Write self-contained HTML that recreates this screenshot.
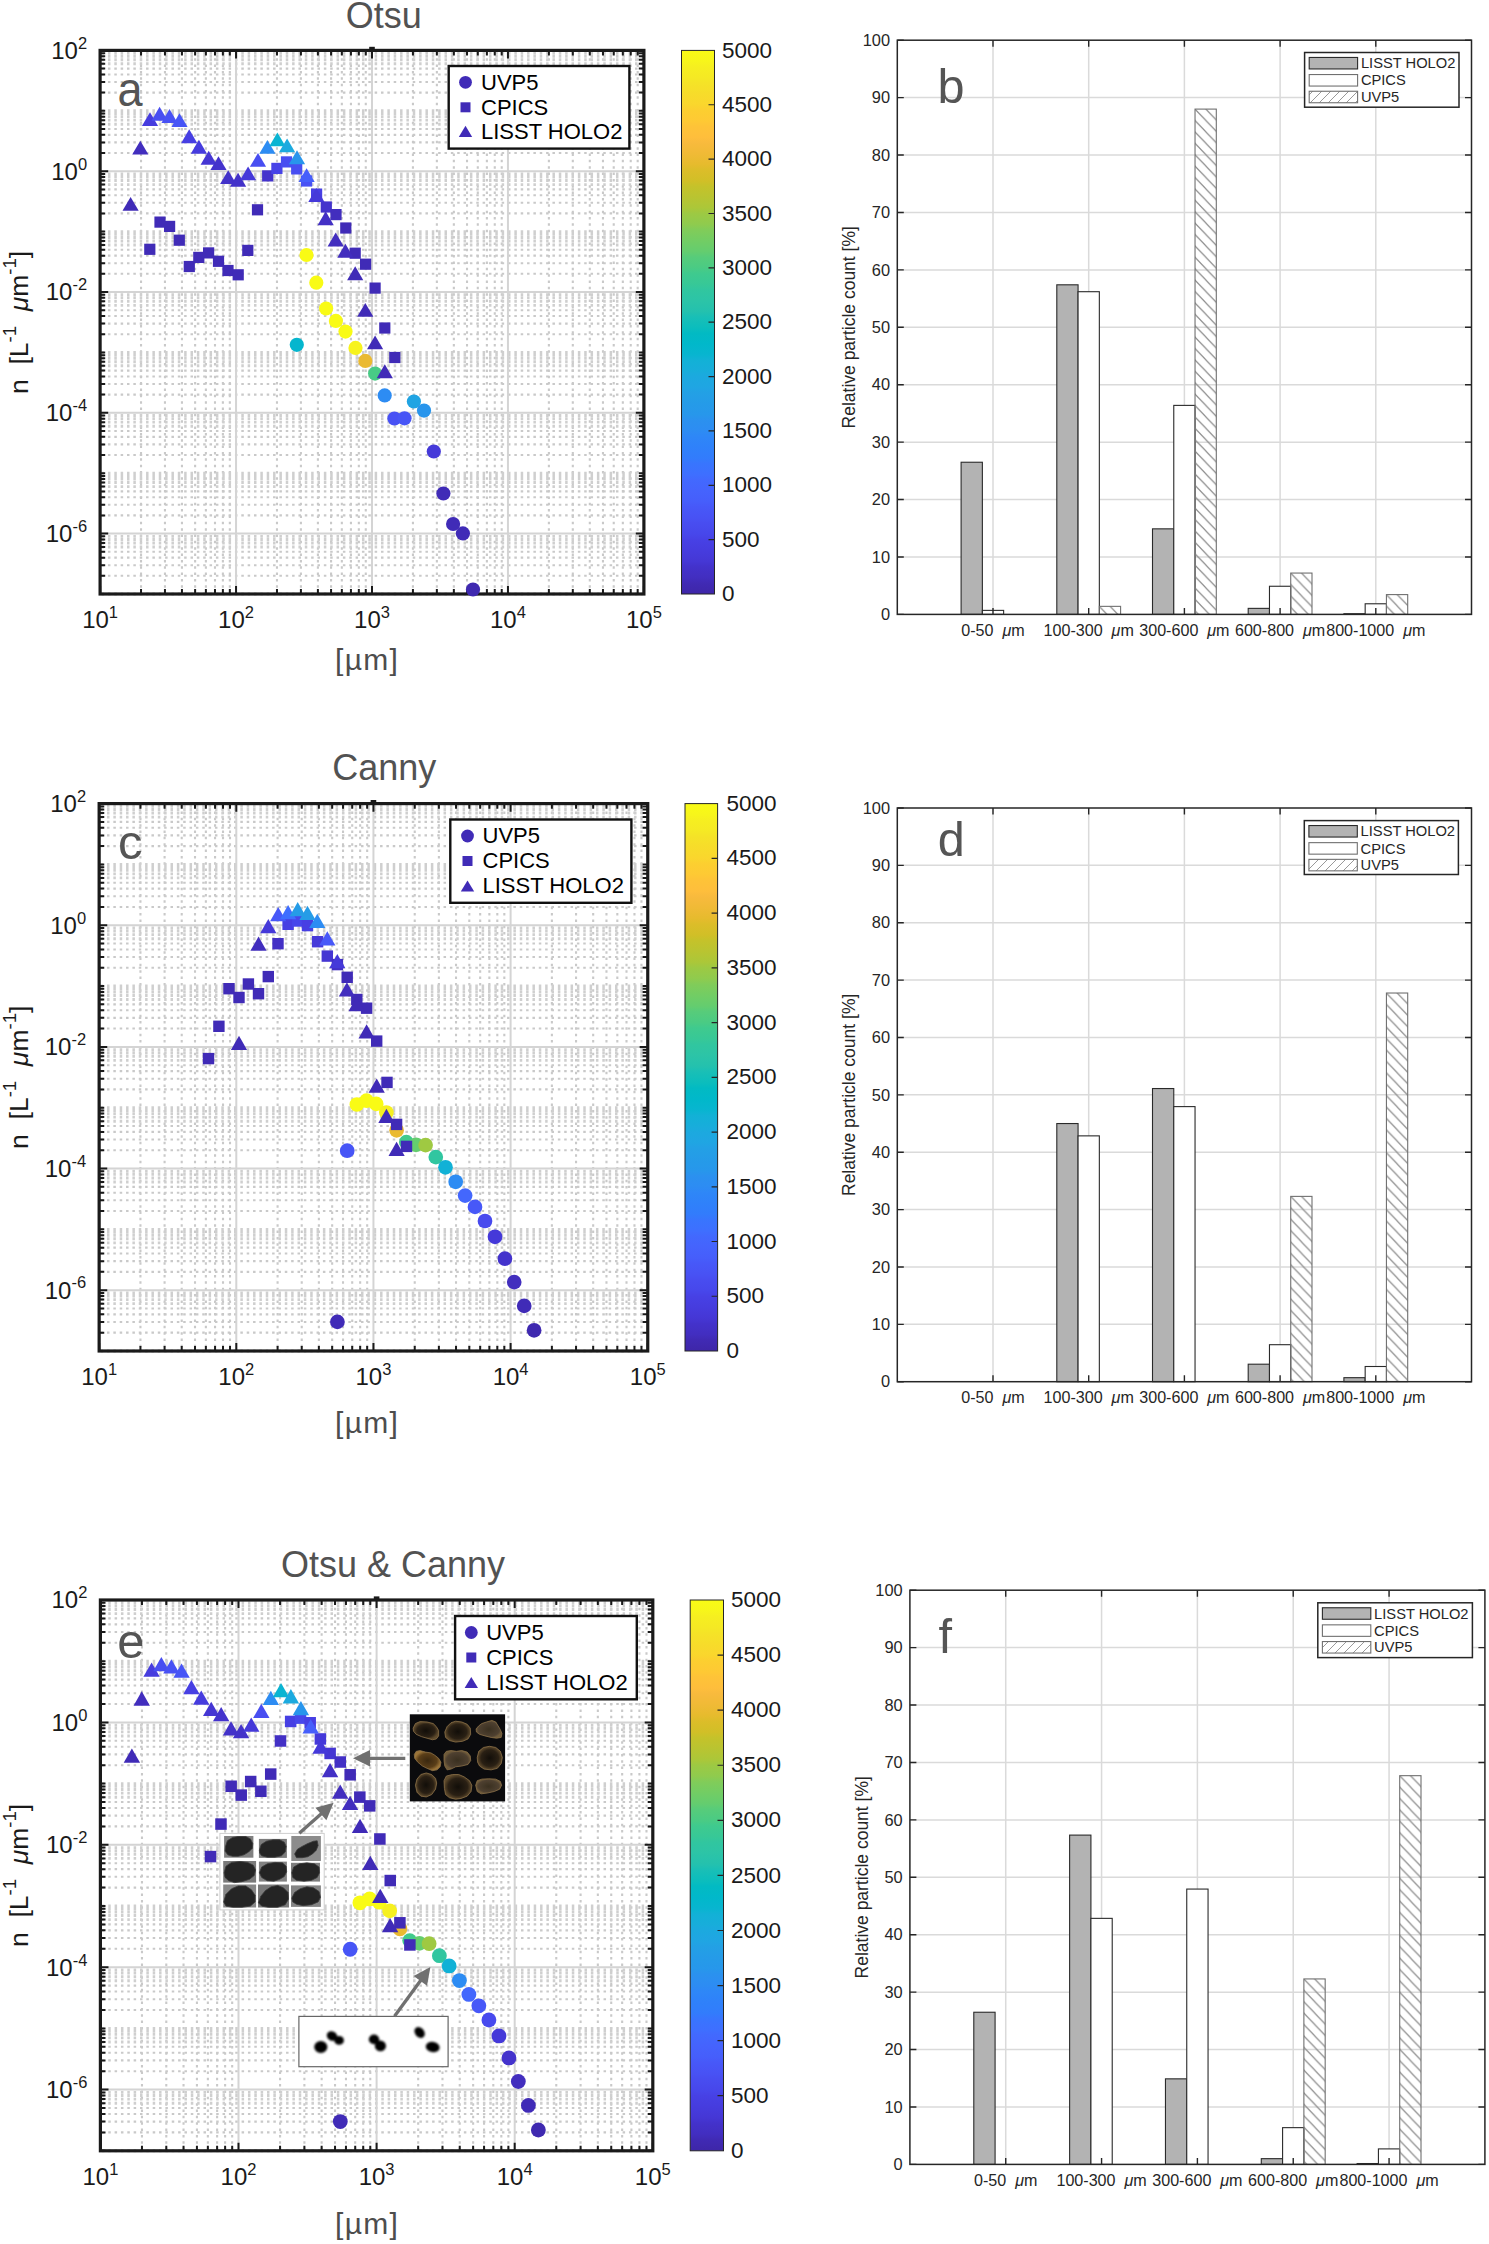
<!DOCTYPE html><html><head><meta charset="utf-8"><title>Figure</title><style>html,body{margin:0;padding:0;background:#fff;}svg{display:block;}</style></head><body>
<svg width="1489" height="2244" viewBox="0 0 1489 2244">
<rect width="1489" height="2244" fill="#fff"/>
<path d="M141.03 51.9V592.5M164.96 51.9V592.5M181.95 51.9V592.5M195.12 51.9V592.5M205.89 51.9V592.5M214.99 51.9V592.5M222.88 51.9V592.5M229.83 51.9V592.5M276.98 51.9V592.5M300.91 51.9V592.5M317.9 51.9V592.5M331.07 51.9V592.5M341.84 51.9V592.5M350.94 51.9V592.5M358.83 51.9V592.5M365.78 51.9V592.5M412.93 51.9V592.5M436.86 51.9V592.5M453.85 51.9V592.5M467.02 51.9V592.5M477.79 51.9V592.5M486.89 51.9V592.5M494.78 51.9V592.5M501.73 51.9V592.5M548.88 51.9V592.5M572.81 51.9V592.5M589.8 51.9V592.5M602.97 51.9V592.5M613.74 51.9V592.5M622.84 51.9V592.5M630.73 51.9V592.5M637.68 51.9V592.5" stroke="#c9c9c9" stroke-width="2.1" stroke-dasharray="2.5 3.85" fill="none"/>
<path d="M101.6 575.82H642.4M101.6 565.18H642.4M101.6 557.64H642.4M101.6 551.78H642.4M101.6 515.42H642.4M101.6 504.78H642.4M101.6 497.24H642.4M101.6 491.38H642.4M101.6 455.02H642.4M101.6 444.38H642.4M101.6 436.84H642.4M101.6 430.98H642.4M101.6 394.62H642.4M101.6 383.98H642.4M101.6 376.44H642.4M101.6 370.58H642.4M101.6 334.22H642.4M101.6 323.58H642.4M101.6 316.04H642.4M101.6 310.18H642.4M101.6 273.82H642.4M101.6 263.18H642.4M101.6 255.64H642.4M101.6 249.78H642.4M101.6 213.42H642.4M101.6 202.78H642.4M101.6 195.24H642.4M101.6 189.38H642.4M101.6 153.02H642.4M101.6 142.38H642.4M101.6 134.84H642.4M101.6 128.98H642.4M101.6 92.62H642.4M101.6 81.98H642.4M101.6 74.44H642.4M101.6 68.58H642.4" stroke="#c9c9c9" stroke-width="2.1" stroke-dasharray="2.5 3.85" fill="none"/>
<path d="M101.6 594H642.4M101.6 547H642.4M101.6 542.96H642.4M101.6 539.45H642.4M101.6 536.36H642.4M101.6 486.6H642.4M101.6 482.56H642.4M101.6 479.05H642.4M101.6 475.96H642.4M101.6 473.2H642.4M101.6 426.2H642.4M101.6 422.16H642.4M101.6 418.65H642.4M101.6 415.56H642.4M101.6 365.8H642.4M101.6 361.76H642.4M101.6 358.25H642.4M101.6 355.16H642.4M101.6 352.4H642.4M101.6 305.4H642.4M101.6 301.36H642.4M101.6 297.85H642.4M101.6 294.76H642.4M101.6 245H642.4M101.6 240.96H642.4M101.6 237.45H642.4M101.6 234.36H642.4M101.6 231.6H642.4M101.6 184.6H642.4M101.6 180.56H642.4M101.6 177.05H642.4M101.6 173.96H642.4M101.6 124.2H642.4M101.6 120.16H642.4M101.6 116.65H642.4M101.6 113.56H642.4M101.6 110.8H642.4M101.6 63.8H642.4M101.6 59.76H642.4M101.6 56.25H642.4M101.6 53.16H642.4" stroke="#cfcfcf" stroke-width="2.9" stroke-dasharray="2.5 3.85" fill="none"/>
<path d="M236.05 50.4V594M372 50.4V594M507.95 50.4V594M100.1 171.2H643.9M100.1 292H643.9M100.1 412.8H643.9M100.1 533.6H643.9" stroke="#d4d4d4" stroke-width="2" fill="none"/>
<path d="M100.1 594v-8.1M100.1 50.4v8.1M236.05 594v-8.1M236.05 50.4v8.1M372 594v-8.1M372 50.4v8.1M507.95 594v-8.1M507.95 50.4v8.1M643.9 594v-8.1M643.9 50.4v8.1M141.03 594v-5.1M141.03 50.4v5.1M164.96 594v-5.1M164.96 50.4v5.1M181.95 594v-5.1M181.95 50.4v5.1M195.12 594v-5.1M195.12 50.4v5.1M205.89 594v-5.1M205.89 50.4v5.1M214.99 594v-5.1M214.99 50.4v5.1M222.88 594v-5.1M222.88 50.4v5.1M229.83 594v-5.1M229.83 50.4v5.1M276.98 594v-5.1M276.98 50.4v5.1M300.91 594v-5.1M300.91 50.4v5.1M317.9 594v-5.1M317.9 50.4v5.1M331.07 594v-5.1M331.07 50.4v5.1M341.84 594v-5.1M341.84 50.4v5.1M350.94 594v-5.1M350.94 50.4v5.1M358.83 594v-5.1M358.83 50.4v5.1M365.78 594v-5.1M365.78 50.4v5.1M412.93 594v-5.1M412.93 50.4v5.1M436.86 594v-5.1M436.86 50.4v5.1M453.85 594v-5.1M453.85 50.4v5.1M467.02 594v-5.1M467.02 50.4v5.1M477.79 594v-5.1M477.79 50.4v5.1M486.89 594v-5.1M486.89 50.4v5.1M494.78 594v-5.1M494.78 50.4v5.1M501.73 594v-5.1M501.73 50.4v5.1M548.88 594v-5.1M548.88 50.4v5.1M572.81 594v-5.1M572.81 50.4v5.1M589.8 594v-5.1M589.8 50.4v5.1M602.97 594v-5.1M602.97 50.4v5.1M613.74 594v-5.1M613.74 50.4v5.1M622.84 594v-5.1M622.84 50.4v5.1M630.73 594v-5.1M630.73 50.4v5.1M637.68 594v-5.1M637.68 50.4v5.1M100.1 50.4h8.1M643.9 50.4h-8.1M100.1 171.2h8.1M643.9 171.2h-8.1M100.1 292h8.1M643.9 292h-8.1M100.1 412.8h8.1M643.9 412.8h-8.1M100.1 533.6h8.1M643.9 533.6h-8.1M100.1 594h5.1M643.9 594h-5.1M100.1 575.82h5.1M643.9 575.82h-5.1M100.1 565.18h5.1M643.9 565.18h-5.1M100.1 557.64h5.1M643.9 557.64h-5.1M100.1 551.78h5.1M643.9 551.78h-5.1M100.1 547h5.1M643.9 547h-5.1M100.1 542.96h5.1M643.9 542.96h-5.1M100.1 539.45h5.1M643.9 539.45h-5.1M100.1 536.36h5.1M643.9 536.36h-5.1M100.1 515.42h5.1M643.9 515.42h-5.1M100.1 504.78h5.1M643.9 504.78h-5.1M100.1 497.24h5.1M643.9 497.24h-5.1M100.1 491.38h5.1M643.9 491.38h-5.1M100.1 486.6h5.1M643.9 486.6h-5.1M100.1 482.56h5.1M643.9 482.56h-5.1M100.1 479.05h5.1M643.9 479.05h-5.1M100.1 475.96h5.1M643.9 475.96h-5.1M100.1 473.2h5.1M643.9 473.2h-5.1M100.1 455.02h5.1M643.9 455.02h-5.1M100.1 444.38h5.1M643.9 444.38h-5.1M100.1 436.84h5.1M643.9 436.84h-5.1M100.1 430.98h5.1M643.9 430.98h-5.1M100.1 426.2h5.1M643.9 426.2h-5.1M100.1 422.16h5.1M643.9 422.16h-5.1M100.1 418.65h5.1M643.9 418.65h-5.1M100.1 415.56h5.1M643.9 415.56h-5.1M100.1 394.62h5.1M643.9 394.62h-5.1M100.1 383.98h5.1M643.9 383.98h-5.1M100.1 376.44h5.1M643.9 376.44h-5.1M100.1 370.58h5.1M643.9 370.58h-5.1M100.1 365.8h5.1M643.9 365.8h-5.1M100.1 361.76h5.1M643.9 361.76h-5.1M100.1 358.25h5.1M643.9 358.25h-5.1M100.1 355.16h5.1M643.9 355.16h-5.1M100.1 352.4h5.1M643.9 352.4h-5.1M100.1 334.22h5.1M643.9 334.22h-5.1M100.1 323.58h5.1M643.9 323.58h-5.1M100.1 316.04h5.1M643.9 316.04h-5.1M100.1 310.18h5.1M643.9 310.18h-5.1M100.1 305.4h5.1M643.9 305.4h-5.1M100.1 301.36h5.1M643.9 301.36h-5.1M100.1 297.85h5.1M643.9 297.85h-5.1M100.1 294.76h5.1M643.9 294.76h-5.1M100.1 273.82h5.1M643.9 273.82h-5.1M100.1 263.18h5.1M643.9 263.18h-5.1M100.1 255.64h5.1M643.9 255.64h-5.1M100.1 249.78h5.1M643.9 249.78h-5.1M100.1 245h5.1M643.9 245h-5.1M100.1 240.96h5.1M643.9 240.96h-5.1M100.1 237.45h5.1M643.9 237.45h-5.1M100.1 234.36h5.1M643.9 234.36h-5.1M100.1 231.6h5.1M643.9 231.6h-5.1M100.1 213.42h5.1M643.9 213.42h-5.1M100.1 202.78h5.1M643.9 202.78h-5.1M100.1 195.24h5.1M643.9 195.24h-5.1M100.1 189.38h5.1M643.9 189.38h-5.1M100.1 184.6h5.1M643.9 184.6h-5.1M100.1 180.56h5.1M643.9 180.56h-5.1M100.1 177.05h5.1M643.9 177.05h-5.1M100.1 173.96h5.1M643.9 173.96h-5.1M100.1 153.02h5.1M643.9 153.02h-5.1M100.1 142.38h5.1M643.9 142.38h-5.1M100.1 134.84h5.1M643.9 134.84h-5.1M100.1 128.98h5.1M643.9 128.98h-5.1M100.1 124.2h5.1M643.9 124.2h-5.1M100.1 120.16h5.1M643.9 120.16h-5.1M100.1 116.65h5.1M643.9 116.65h-5.1M100.1 113.56h5.1M643.9 113.56h-5.1M100.1 110.8h5.1M643.9 110.8h-5.1M100.1 92.62h5.1M643.9 92.62h-5.1M100.1 81.98h5.1M643.9 81.98h-5.1M100.1 74.44h5.1M643.9 74.44h-5.1M100.1 68.58h5.1M643.9 68.58h-5.1M100.1 63.8h5.1M643.9 63.8h-5.1M100.1 59.76h5.1M643.9 59.76h-5.1M100.1 56.25h5.1M643.9 56.25h-5.1M100.1 53.16h5.1M643.9 53.16h-5.1" stroke="#1a1a1a" stroke-width="2.0" fill="none"/>
<rect x="100.1" y="50.4" width="543.8" height="543.6" fill="none" stroke="#1a1a1a" stroke-width="3.2"/>
<rect x="369.2" y="46.8" width="5.6" height="3" fill="#1a1a1a"/>
<circle cx="296.8" cy="344.8" r="7.1" fill="#05b6ce"/>
<circle cx="306.5" cy="255" r="7.1" fill="#f9fb15"/>
<circle cx="316.3" cy="282.7" r="7.1" fill="#f9fb15"/>
<circle cx="326.1" cy="308.5" r="7.1" fill="#f9fb15"/>
<circle cx="335.9" cy="320.9" r="7.1" fill="#f9fb15"/>
<circle cx="345.5" cy="331.6" r="7.1" fill="#f9fb15"/>
<circle cx="355.5" cy="347.9" r="7.1" fill="#f7f31c"/>
<circle cx="365.3" cy="360.9" r="7.1" fill="#eaba31"/>
<circle cx="375.1" cy="373.6" r="7.1" fill="#48cb86"/>
<circle cx="384.7" cy="395.4" r="7.1" fill="#2d8cf3"/>
<circle cx="394.4" cy="418.5" r="7.1" fill="#4851f4"/>
<circle cx="404.5" cy="418.3" r="7.1" fill="#4755f6"/>
<circle cx="413.9" cy="401.5" r="7.1" fill="#20a4e3"/>
<circle cx="424" cy="410.6" r="7.1" fill="#2895ec"/>
<circle cx="433.8" cy="451.5" r="7.1" fill="#4539d9"/>
<circle cx="443.4" cy="493.5" r="7.1" fill="#402bb7"/>
<circle cx="453.1" cy="524" r="7.1" fill="#402bb7"/>
<circle cx="462.9" cy="533.4" r="7.1" fill="#402bb7"/>
<circle cx="473" cy="589.5" r="7.1" fill="#3f29b0"/>
<rect x="144.2" y="243.7" width="11.2" height="11.2" fill="#402bb7"/>
<rect x="154.4" y="216.5" width="11.2" height="11.2" fill="#402bb7"/>
<rect x="164" y="220.8" width="11.2" height="11.2" fill="#402bb7"/>
<rect x="173.7" y="234.6" width="11.2" height="11.2" fill="#402bb7"/>
<rect x="183.7" y="260.9" width="11.2" height="11.2" fill="#402bb7"/>
<rect x="193.2" y="251.8" width="11.2" height="11.2" fill="#402bb7"/>
<rect x="203" y="247.3" width="11.2" height="11.2" fill="#402bb7"/>
<rect x="212.9" y="255.7" width="11.2" height="11.2" fill="#402bb7"/>
<rect x="222.4" y="264.9" width="11.2" height="11.2" fill="#402bb7"/>
<rect x="232.6" y="269.2" width="11.2" height="11.2" fill="#402bb7"/>
<rect x="242.2" y="244.8" width="11.2" height="11.2" fill="#402bb7"/>
<rect x="251.9" y="204.2" width="11.2" height="11.2" fill="#402bb7"/>
<rect x="262.1" y="170.3" width="11.2" height="11.2" fill="#4433cc"/>
<rect x="271.3" y="162.8" width="11.2" height="11.2" fill="#4743e7"/>
<rect x="280.9" y="156.3" width="11.2" height="11.2" fill="#484ef1"/>
<rect x="291.1" y="163.3" width="11.2" height="11.2" fill="#484ef1"/>
<rect x="301" y="175.4" width="11.2" height="11.2" fill="#4851f4"/>
<rect x="311" y="188.5" width="11.2" height="11.2" fill="#473fe3"/>
<rect x="320.7" y="201.4" width="11.2" height="11.2" fill="#4433cc"/>
<rect x="330.4" y="209" width="11.2" height="11.2" fill="#422ebe"/>
<rect x="340.2" y="222.4" width="11.2" height="11.2" fill="#402bb7"/>
<rect x="349.6" y="247.6" width="11.2" height="11.2" fill="#402bb7"/>
<rect x="360" y="258.6" width="11.2" height="11.2" fill="#402bb7"/>
<rect x="369.5" y="282.5" width="11.2" height="11.2" fill="#402bb7"/>
<rect x="379.2" y="322.4" width="11.2" height="11.2" fill="#402bb7"/>
<rect x="389.2" y="351.9" width="11.2" height="11.2" fill="#402bb7"/>
<path d="M130.6 196.95L138.7 210.85L122.5 210.85Z" fill="#402bb7"/>
<path d="M140.3 140.65L148.4 154.55L132.2 154.55Z" fill="#422ebe"/>
<path d="M150 112.15L158.1 126.05L141.9 126.05Z" fill="#463cde"/>
<path d="M159.6 106.75L167.7 120.65L151.5 120.65Z" fill="#484ef1"/>
<path d="M169.5 109.05L177.6 122.95L161.4 122.95Z" fill="#4851f4"/>
<path d="M179.5 113.15L187.6 127.05L171.4 127.05Z" fill="#4755f6"/>
<path d="M189.2 129.35L197.3 143.25L181.1 143.25Z" fill="#473fe3"/>
<path d="M198.9 139.75L207 153.65L190.8 153.65Z" fill="#463cde"/>
<path d="M208.7 150.85L216.8 164.75L200.6 164.75Z" fill="#4536d3"/>
<path d="M218.5 156.15L226.6 170.05L210.4 170.05Z" fill="#4433cc"/>
<path d="M228.2 170.15L236.3 184.05L220.1 184.05Z" fill="#4332c9"/>
<path d="M238.1 172.85L246.2 186.75L230 186.75Z" fill="#4332c9"/>
<path d="M248.1 166.45L256.2 180.35L240 180.35Z" fill="#4539d9"/>
<path d="M258 152.95L266.1 166.85L249.9 166.85Z" fill="#484ef1"/>
<path d="M267.4 139.95L275.5 153.85L259.3 153.85Z" fill="#2d8cf3"/>
<path d="M277.4 132.45L285.5 146.35L269.3 146.35Z" fill="#0ab4d2"/>
<path d="M287.1 138.45L295.2 152.35L279 152.35Z" fill="#1caadf"/>
<path d="M297 150.25L305.1 164.15L288.9 164.15Z" fill="#2895ec"/>
<path d="M306.6 168.15L314.7 182.05L298.5 182.05Z" fill="#465ffb"/>
<path d="M316.4 188.05L324.5 201.95L308.3 201.95Z" fill="#4539d9"/>
<path d="M325.7 211.35L333.8 225.25L317.6 225.25Z" fill="#4330c5"/>
<path d="M335.7 232.55L343.8 246.45L327.6 246.45Z" fill="#422ebe"/>
<path d="M345.4 243.75L353.5 257.65L337.3 257.65Z" fill="#422ebe"/>
<path d="M355.2 266.35L363.3 280.25L347.1 280.25Z" fill="#402bb7"/>
<path d="M365.3 302.95L373.4 316.85L357.2 316.85Z" fill="#402bb7"/>
<path d="M375.1 335.45L383.2 349.35L367 349.35Z" fill="#402bb7"/>
<path d="M384.8 364.35L392.9 378.25L376.7 378.25Z" fill="#402bb7"/>
<text x="100.1" y="628" font-size="24" fill="#1a1a1a" text-anchor="middle" font-family="Liberation Sans, sans-serif">10<tspan font-size="16.5" dy="-10.08">1</tspan></text>
<text x="236.05" y="628" font-size="24" fill="#1a1a1a" text-anchor="middle" font-family="Liberation Sans, sans-serif">10<tspan font-size="16.5" dy="-10.08">2</tspan></text>
<text x="372" y="628" font-size="24" fill="#1a1a1a" text-anchor="middle" font-family="Liberation Sans, sans-serif">10<tspan font-size="16.5" dy="-10.08">3</tspan></text>
<text x="507.95" y="628" font-size="24" fill="#1a1a1a" text-anchor="middle" font-family="Liberation Sans, sans-serif">10<tspan font-size="16.5" dy="-10.08">4</tspan></text>
<text x="643.9" y="628" font-size="24" fill="#1a1a1a" text-anchor="middle" font-family="Liberation Sans, sans-serif">10<tspan font-size="16.5" dy="-10.08">5</tspan></text>
<text x="87.1" y="58.8" font-size="24" fill="#1a1a1a" text-anchor="end" font-family="Liberation Sans, sans-serif">10<tspan font-size="16.5" dy="-10.08">2</tspan></text>
<text x="87.1" y="179.6" font-size="24" fill="#1a1a1a" text-anchor="end" font-family="Liberation Sans, sans-serif">10<tspan font-size="16.5" dy="-10.08">0</tspan></text>
<text x="87.1" y="300.4" font-size="24" fill="#1a1a1a" text-anchor="end" font-family="Liberation Sans, sans-serif">10<tspan font-size="16.5" dy="-10.08">-2</tspan></text>
<text x="87.1" y="421.2" font-size="24" fill="#1a1a1a" text-anchor="end" font-family="Liberation Sans, sans-serif">10<tspan font-size="16.5" dy="-10.08">-4</tspan></text>
<text x="87.1" y="542" font-size="24" fill="#1a1a1a" text-anchor="end" font-family="Liberation Sans, sans-serif">10<tspan font-size="16.5" dy="-10.08">-6</tspan></text>
<rect x="448.7" y="66" width="180.7" height="82.6" fill="#fff" stroke="#111" stroke-width="2.4"/>
<circle cx="465.5" cy="82.3" r="6.4" fill="#402bb7"/>
<rect x="460.5" y="102.3" width="10" height="10" fill="#402bb7"/>
<path d="M465.5 125.7L472.2 136.9L458.8 136.9Z" fill="#402bb7"/>
<text x="481" y="89.7" font-size="22" fill="#000" font-family="Liberation Sans, sans-serif">UVP5</text>
<text x="481" y="114.7" font-size="22" fill="#000" font-family="Liberation Sans, sans-serif">CPICS</text>
<text x="481" y="138.7" font-size="22" fill="#000" font-family="Liberation Sans, sans-serif">LISST HOLO2</text>
<text transform="translate(117.6 106) scale(0.92 1)" font-size="49" fill="#555" font-family="Liberation Sans, sans-serif">a</text>
<defs><linearGradient id="ga" x1="0" y1="1" x2="0" y2="0"><stop offset="0" stop-color="#3e26a8"/><stop offset="0.02" stop-color="#402ab4"/><stop offset="0.03" stop-color="#422ec0"/><stop offset="0.05" stop-color="#4332cb"/><stop offset="0.06" stop-color="#4537d5"/><stop offset="0.08" stop-color="#463cde"/><stop offset="0.1" stop-color="#4741e5"/><stop offset="0.11" stop-color="#4747eb"/><stop offset="0.13" stop-color="#484df0"/><stop offset="0.14" stop-color="#4852f4"/><stop offset="0.16" stop-color="#4758f8"/><stop offset="0.17" stop-color="#465efb"/><stop offset="0.19" stop-color="#4563fd"/><stop offset="0.21" stop-color="#4269fe"/><stop offset="0.22" stop-color="#3e6fff"/><stop offset="0.24" stop-color="#3875fe"/><stop offset="0.25" stop-color="#327cfc"/><stop offset="0.27" stop-color="#2f81fa"/><stop offset="0.29" stop-color="#2e87f7"/><stop offset="0.3" stop-color="#2d8cf3"/><stop offset="0.32" stop-color="#2b91ef"/><stop offset="0.33" stop-color="#2797eb"/><stop offset="0.35" stop-color="#259be8"/><stop offset="0.37" stop-color="#23a0e5"/><stop offset="0.38" stop-color="#20a5e3"/><stop offset="0.4" stop-color="#1ca9df"/><stop offset="0.41" stop-color="#18addb"/><stop offset="0.43" stop-color="#12b1d6"/><stop offset="0.44" stop-color="#08b5d0"/><stop offset="0.46" stop-color="#01b8ca"/><stop offset="0.48" stop-color="#02bac3"/><stop offset="0.49" stop-color="#0bbdbd"/><stop offset="0.51" stop-color="#19bfb6"/><stop offset="0.52" stop-color="#24c1ae"/><stop offset="0.54" stop-color="#2cc4a7"/><stop offset="0.56" stop-color="#31c69f"/><stop offset="0.57" stop-color="#37c897"/><stop offset="0.59" stop-color="#3fca8e"/><stop offset="0.6" stop-color="#4acb84"/><stop offset="0.62" stop-color="#57cc7a"/><stop offset="0.63" stop-color="#64cd6f"/><stop offset="0.65" stop-color="#72cd64"/><stop offset="0.67" stop-color="#81cc59"/><stop offset="0.68" stop-color="#8fcb4e"/><stop offset="0.7" stop-color="#9dc943"/><stop offset="0.71" stop-color="#abc739"/><stop offset="0.73" stop-color="#b9c431"/><stop offset="0.75" stop-color="#c5c22a"/><stop offset="0.76" stop-color="#d1bf27"/><stop offset="0.78" stop-color="#dcbd29"/><stop offset="0.79" stop-color="#e6bb2d"/><stop offset="0.81" stop-color="#f0ba36"/><stop offset="0.83" stop-color="#f8ba3d"/><stop offset="0.84" stop-color="#febe3c"/><stop offset="0.86" stop-color="#fec338"/><stop offset="0.87" stop-color="#fec934"/><stop offset="0.89" stop-color="#fccf30"/><stop offset="0.9" stop-color="#fad62d"/><stop offset="0.92" stop-color="#f7dc2a"/><stop offset="0.94" stop-color="#f5e327"/><stop offset="0.95" stop-color="#f5e924"/><stop offset="0.97" stop-color="#f6ef20"/><stop offset="0.98" stop-color="#f7f51b"/><stop offset="1" stop-color="#f9fb15"/></linearGradient></defs>
<rect x="681.5" y="50.4" width="33" height="543.6" fill="url(#ga)" stroke="#262626" stroke-width="1"/>
<path d="M714.5 539.64h-6M714.5 485.28h-6M714.5 430.92h-6M714.5 376.56h-6M714.5 322.2h-6M714.5 267.84h-6M714.5 213.48h-6M714.5 159.12h-6M714.5 104.76h-6" stroke="#262626" stroke-width="1.2" fill="none"/>
<text x="722" y="601.1" font-size="22.5" fill="#1a1a1a" font-family="Liberation Sans, sans-serif">0</text>
<text x="722" y="546.74" font-size="22.5" fill="#1a1a1a" font-family="Liberation Sans, sans-serif">500</text>
<text x="722" y="492.38" font-size="22.5" fill="#1a1a1a" font-family="Liberation Sans, sans-serif">1000</text>
<text x="722" y="438.02" font-size="22.5" fill="#1a1a1a" font-family="Liberation Sans, sans-serif">1500</text>
<text x="722" y="383.66" font-size="22.5" fill="#1a1a1a" font-family="Liberation Sans, sans-serif">2000</text>
<text x="722" y="329.3" font-size="22.5" fill="#1a1a1a" font-family="Liberation Sans, sans-serif">2500</text>
<text x="722" y="274.94" font-size="22.5" fill="#1a1a1a" font-family="Liberation Sans, sans-serif">3000</text>
<text x="722" y="220.58" font-size="22.5" fill="#1a1a1a" font-family="Liberation Sans, sans-serif">3500</text>
<text x="722" y="166.22" font-size="22.5" fill="#1a1a1a" font-family="Liberation Sans, sans-serif">4000</text>
<text x="722" y="111.86" font-size="22.5" fill="#1a1a1a" font-family="Liberation Sans, sans-serif">4500</text>
<text x="722" y="57.5" font-size="22.5" fill="#1a1a1a" font-family="Liberation Sans, sans-serif">5000</text>
<text x="383.7" y="28.2" font-size="36" fill="#525252" text-anchor="middle" font-family="Liberation Sans, sans-serif">Otsu</text>
<text x="367.2" y="670" font-size="30" fill="#4d4d4d" text-anchor="middle" letter-spacing="1.3" font-family="Liberation Sans, sans-serif">[µm]</text>
<text transform="translate(28 322.4) rotate(-90)" font-size="26.5" fill="#1a1a1a" text-anchor="middle" xml:space="preserve" font-family="Liberation Sans, sans-serif">n  [L<tspan font-size="18.5" dy="-11.93">-1</tspan><tspan dy="11.93">  </tspan><tspan font-style="italic">μ</tspan>m<tspan font-size="18.5" dy="-11.93">-1</tspan><tspan dy="11.93">]</tspan></text>
<path d="M140.44 805.1V1349.5M164.59 805.1V1349.5M181.72 805.1V1349.5M195.01 805.1V1349.5M205.87 805.1V1349.5M215.06 805.1V1349.5M223.01 805.1V1349.5M230.02 805.1V1349.5M277.59 805.1V1349.5M301.74 805.1V1349.5M318.87 805.1V1349.5M332.16 805.1V1349.5M343.02 805.1V1349.5M352.21 805.1V1349.5M360.16 805.1V1349.5M367.17 805.1V1349.5M414.74 805.1V1349.5M438.89 805.1V1349.5M456.02 805.1V1349.5M469.31 805.1V1349.5M480.17 805.1V1349.5M489.36 805.1V1349.5M497.31 805.1V1349.5M504.32 805.1V1349.5M551.89 805.1V1349.5M576.04 805.1V1349.5M593.17 805.1V1349.5M606.46 805.1V1349.5M617.32 805.1V1349.5M626.51 805.1V1349.5M634.46 805.1V1349.5M641.47 805.1V1349.5" stroke="#c9c9c9" stroke-width="2.1" stroke-dasharray="2.5 3.85" fill="none"/>
<path d="M100.65 1332.67H646.25M100.65 1321.96H646.25M100.65 1314.36H646.25M100.65 1308.47H646.25M100.65 1271.85H646.25M100.65 1261.14H646.25M100.65 1253.54H646.25M100.65 1247.65H646.25M100.65 1211.03H646.25M100.65 1200.32H646.25M100.65 1192.72H646.25M100.65 1186.83H646.25M100.65 1150.21H646.25M100.65 1139.5H646.25M100.65 1131.9H646.25M100.65 1126.01H646.25M100.65 1089.39H646.25M100.65 1078.68H646.25M100.65 1071.08H646.25M100.65 1065.19H646.25M100.65 1028.57H646.25M100.65 1017.86H646.25M100.65 1010.26H646.25M100.65 1004.37H646.25M100.65 967.75H646.25M100.65 957.04H646.25M100.65 949.44H646.25M100.65 943.55H646.25M100.65 906.93H646.25M100.65 896.22H646.25M100.65 888.62H646.25M100.65 882.73H646.25M100.65 846.11H646.25M100.65 835.4H646.25M100.65 827.8H646.25M100.65 821.91H646.25" stroke="#c9c9c9" stroke-width="2.1" stroke-dasharray="2.5 3.85" fill="none"/>
<path d="M100.65 1350.98H646.25M100.65 1303.65H646.25M100.65 1299.58H646.25M100.65 1296.05H646.25M100.65 1292.94H646.25M100.65 1242.83H646.25M100.65 1238.76H646.25M100.65 1235.23H646.25M100.65 1232.12H646.25M100.65 1229.34H646.25M100.65 1182.01H646.25M100.65 1177.94H646.25M100.65 1174.41H646.25M100.65 1171.3H646.25M100.65 1121.19H646.25M100.65 1117.12H646.25M100.65 1113.59H646.25M100.65 1110.48H646.25M100.65 1107.7H646.25M100.65 1060.37H646.25M100.65 1056.3H646.25M100.65 1052.77H646.25M100.65 1049.66H646.25M100.65 999.55H646.25M100.65 995.48H646.25M100.65 991.95H646.25M100.65 988.84H646.25M100.65 986.06H646.25M100.65 938.73H646.25M100.65 934.66H646.25M100.65 931.13H646.25M100.65 928.02H646.25M100.65 877.91H646.25M100.65 873.84H646.25M100.65 870.31H646.25M100.65 867.2H646.25M100.65 864.42H646.25M100.65 817.09H646.25M100.65 813.02H646.25M100.65 809.49H646.25M100.65 806.38H646.25" stroke="#cfcfcf" stroke-width="2.9" stroke-dasharray="2.5 3.85" fill="none"/>
<path d="M236.3 803.6V1351M373.45 803.6V1351M510.6 803.6V1351M99.15 925.24H647.75M99.15 1046.88H647.75M99.15 1168.52H647.75M99.15 1290.16H647.75" stroke="#d4d4d4" stroke-width="2" fill="none"/>
<path d="M99.15 1351v-8.1M99.15 803.6v8.1M236.3 1351v-8.1M236.3 803.6v8.1M373.45 1351v-8.1M373.45 803.6v8.1M510.6 1351v-8.1M510.6 803.6v8.1M647.75 1351v-8.1M647.75 803.6v8.1M140.44 1351v-5.1M140.44 803.6v5.1M164.59 1351v-5.1M164.59 803.6v5.1M181.72 1351v-5.1M181.72 803.6v5.1M195.01 1351v-5.1M195.01 803.6v5.1M205.87 1351v-5.1M205.87 803.6v5.1M215.06 1351v-5.1M215.06 803.6v5.1M223.01 1351v-5.1M223.01 803.6v5.1M230.02 1351v-5.1M230.02 803.6v5.1M277.59 1351v-5.1M277.59 803.6v5.1M301.74 1351v-5.1M301.74 803.6v5.1M318.87 1351v-5.1M318.87 803.6v5.1M332.16 1351v-5.1M332.16 803.6v5.1M343.02 1351v-5.1M343.02 803.6v5.1M352.21 1351v-5.1M352.21 803.6v5.1M360.16 1351v-5.1M360.16 803.6v5.1M367.17 1351v-5.1M367.17 803.6v5.1M414.74 1351v-5.1M414.74 803.6v5.1M438.89 1351v-5.1M438.89 803.6v5.1M456.02 1351v-5.1M456.02 803.6v5.1M469.31 1351v-5.1M469.31 803.6v5.1M480.17 1351v-5.1M480.17 803.6v5.1M489.36 1351v-5.1M489.36 803.6v5.1M497.31 1351v-5.1M497.31 803.6v5.1M504.32 1351v-5.1M504.32 803.6v5.1M551.89 1351v-5.1M551.89 803.6v5.1M576.04 1351v-5.1M576.04 803.6v5.1M593.17 1351v-5.1M593.17 803.6v5.1M606.46 1351v-5.1M606.46 803.6v5.1M617.32 1351v-5.1M617.32 803.6v5.1M626.51 1351v-5.1M626.51 803.6v5.1M634.46 1351v-5.1M634.46 803.6v5.1M641.47 1351v-5.1M641.47 803.6v5.1M99.15 803.6h8.1M647.75 803.6h-8.1M99.15 925.24h8.1M647.75 925.24h-8.1M99.15 1046.88h8.1M647.75 1046.88h-8.1M99.15 1168.52h8.1M647.75 1168.52h-8.1M99.15 1290.16h8.1M647.75 1290.16h-8.1M99.15 1350.98h5.1M647.75 1350.98h-5.1M99.15 1332.67h5.1M647.75 1332.67h-5.1M99.15 1321.96h5.1M647.75 1321.96h-5.1M99.15 1314.36h5.1M647.75 1314.36h-5.1M99.15 1308.47h5.1M647.75 1308.47h-5.1M99.15 1303.65h5.1M647.75 1303.65h-5.1M99.15 1299.58h5.1M647.75 1299.58h-5.1M99.15 1296.05h5.1M647.75 1296.05h-5.1M99.15 1292.94h5.1M647.75 1292.94h-5.1M99.15 1271.85h5.1M647.75 1271.85h-5.1M99.15 1261.14h5.1M647.75 1261.14h-5.1M99.15 1253.54h5.1M647.75 1253.54h-5.1M99.15 1247.65h5.1M647.75 1247.65h-5.1M99.15 1242.83h5.1M647.75 1242.83h-5.1M99.15 1238.76h5.1M647.75 1238.76h-5.1M99.15 1235.23h5.1M647.75 1235.23h-5.1M99.15 1232.12h5.1M647.75 1232.12h-5.1M99.15 1229.34h5.1M647.75 1229.34h-5.1M99.15 1211.03h5.1M647.75 1211.03h-5.1M99.15 1200.32h5.1M647.75 1200.32h-5.1M99.15 1192.72h5.1M647.75 1192.72h-5.1M99.15 1186.83h5.1M647.75 1186.83h-5.1M99.15 1182.01h5.1M647.75 1182.01h-5.1M99.15 1177.94h5.1M647.75 1177.94h-5.1M99.15 1174.41h5.1M647.75 1174.41h-5.1M99.15 1171.3h5.1M647.75 1171.3h-5.1M99.15 1150.21h5.1M647.75 1150.21h-5.1M99.15 1139.5h5.1M647.75 1139.5h-5.1M99.15 1131.9h5.1M647.75 1131.9h-5.1M99.15 1126.01h5.1M647.75 1126.01h-5.1M99.15 1121.19h5.1M647.75 1121.19h-5.1M99.15 1117.12h5.1M647.75 1117.12h-5.1M99.15 1113.59h5.1M647.75 1113.59h-5.1M99.15 1110.48h5.1M647.75 1110.48h-5.1M99.15 1107.7h5.1M647.75 1107.7h-5.1M99.15 1089.39h5.1M647.75 1089.39h-5.1M99.15 1078.68h5.1M647.75 1078.68h-5.1M99.15 1071.08h5.1M647.75 1071.08h-5.1M99.15 1065.19h5.1M647.75 1065.19h-5.1M99.15 1060.37h5.1M647.75 1060.37h-5.1M99.15 1056.3h5.1M647.75 1056.3h-5.1M99.15 1052.77h5.1M647.75 1052.77h-5.1M99.15 1049.66h5.1M647.75 1049.66h-5.1M99.15 1028.57h5.1M647.75 1028.57h-5.1M99.15 1017.86h5.1M647.75 1017.86h-5.1M99.15 1010.26h5.1M647.75 1010.26h-5.1M99.15 1004.37h5.1M647.75 1004.37h-5.1M99.15 999.55h5.1M647.75 999.55h-5.1M99.15 995.48h5.1M647.75 995.48h-5.1M99.15 991.95h5.1M647.75 991.95h-5.1M99.15 988.84h5.1M647.75 988.84h-5.1M99.15 986.06h5.1M647.75 986.06h-5.1M99.15 967.75h5.1M647.75 967.75h-5.1M99.15 957.04h5.1M647.75 957.04h-5.1M99.15 949.44h5.1M647.75 949.44h-5.1M99.15 943.55h5.1M647.75 943.55h-5.1M99.15 938.73h5.1M647.75 938.73h-5.1M99.15 934.66h5.1M647.75 934.66h-5.1M99.15 931.13h5.1M647.75 931.13h-5.1M99.15 928.02h5.1M647.75 928.02h-5.1M99.15 906.93h5.1M647.75 906.93h-5.1M99.15 896.22h5.1M647.75 896.22h-5.1M99.15 888.62h5.1M647.75 888.62h-5.1M99.15 882.73h5.1M647.75 882.73h-5.1M99.15 877.91h5.1M647.75 877.91h-5.1M99.15 873.84h5.1M647.75 873.84h-5.1M99.15 870.31h5.1M647.75 870.31h-5.1M99.15 867.2h5.1M647.75 867.2h-5.1M99.15 864.42h5.1M647.75 864.42h-5.1M99.15 846.11h5.1M647.75 846.11h-5.1M99.15 835.4h5.1M647.75 835.4h-5.1M99.15 827.8h5.1M647.75 827.8h-5.1M99.15 821.91h5.1M647.75 821.91h-5.1M99.15 817.09h5.1M647.75 817.09h-5.1M99.15 813.02h5.1M647.75 813.02h-5.1M99.15 809.49h5.1M647.75 809.49h-5.1M99.15 806.38h5.1M647.75 806.38h-5.1" stroke="#1a1a1a" stroke-width="2.0" fill="none"/>
<rect x="99.15" y="803.6" width="548.6" height="547.4" fill="none" stroke="#1a1a1a" stroke-width="3.2"/>
<rect x="370.65" y="800" width="5.6" height="3" fill="#1a1a1a"/>
<circle cx="337.4" cy="1321.9" r="7.35" fill="#402bb7"/>
<circle cx="347.2" cy="1150.7" r="7.35" fill="#4755f6"/>
<circle cx="356.9" cy="1104.5" r="7.35" fill="#f9fb15"/>
<circle cx="366.5" cy="1100.7" r="7.35" fill="#f9fb15"/>
<circle cx="376.2" cy="1103.9" r="7.35" fill="#f9fb15"/>
<circle cx="386.4" cy="1112.5" r="7.35" fill="#f6f020"/>
<circle cx="396.6" cy="1130.3" r="7.35" fill="#eaba31"/>
<circle cx="406.3" cy="1142.1" r="7.35" fill="#41ca8c"/>
<circle cx="416" cy="1144.8" r="7.35" fill="#64cd6f"/>
<circle cx="425.6" cy="1145.1" r="7.35" fill="#9fc942"/>
<circle cx="435.8" cy="1157.1" r="7.35" fill="#31c6a0"/>
<circle cx="445.5" cy="1167.3" r="7.35" fill="#11b1d6"/>
<circle cx="455.7" cy="1181.8" r="7.35" fill="#2d8cf3"/>
<circle cx="465.1" cy="1195.6" r="7.35" fill="#4367fd"/>
<circle cx="475" cy="1206.9" r="7.35" fill="#4758f8"/>
<circle cx="485" cy="1221" r="7.35" fill="#484aee"/>
<circle cx="495" cy="1236.8" r="7.35" fill="#4539d9"/>
<circle cx="504.9" cy="1258.7" r="7.35" fill="#4433cc"/>
<circle cx="514.2" cy="1282.1" r="7.35" fill="#422ebe"/>
<circle cx="524.2" cy="1305.9" r="7.35" fill="#402bb7"/>
<circle cx="534.1" cy="1330.3" r="7.35" fill="#3f29b0"/>
<rect x="202.8" y="1052.9" width="11.4" height="11.4" fill="#402bb7"/>
<rect x="213.2" y="1020.6" width="11.4" height="11.4" fill="#402bb7"/>
<rect x="223.3" y="983" width="11.4" height="11.4" fill="#402bb7"/>
<rect x="233.3" y="991.8" width="11.4" height="11.4" fill="#402bb7"/>
<rect x="242.7" y="978.3" width="11.4" height="11.4" fill="#402bb7"/>
<rect x="252.8" y="988" width="11.4" height="11.4" fill="#402bb7"/>
<rect x="262.6" y="970.9" width="11.4" height="11.4" fill="#402bb7"/>
<rect x="272.3" y="938" width="11.4" height="11.4" fill="#4330c5"/>
<rect x="282.4" y="918.6" width="11.4" height="11.4" fill="#473fe3"/>
<rect x="292.2" y="915.3" width="11.4" height="11.4" fill="#4747eb"/>
<rect x="301.8" y="919.9" width="11.4" height="11.4" fill="#473fe3"/>
<rect x="311.9" y="936" width="11.4" height="11.4" fill="#4539d9"/>
<rect x="321.6" y="950.4" width="11.4" height="11.4" fill="#4536d3"/>
<rect x="331.7" y="958.9" width="11.4" height="11.4" fill="#4330c5"/>
<rect x="341.5" y="971.6" width="11.4" height="11.4" fill="#402bb7"/>
<rect x="351.1" y="993.8" width="11.4" height="11.4" fill="#402bb7"/>
<rect x="360.9" y="1002.5" width="11.4" height="11.4" fill="#402bb7"/>
<rect x="371" y="1035.4" width="11.4" height="11.4" fill="#402bb7"/>
<rect x="381.3" y="1076.7" width="11.4" height="11.4" fill="#402bb7"/>
<rect x="390.9" y="1118.7" width="11.4" height="11.4" fill="#402bb7"/>
<rect x="400.8" y="1140.7" width="11.4" height="11.4" fill="#402bb7"/>
<path d="M239 1035.7L247.1 1049.9L230.9 1049.9Z" fill="#402bb7"/>
<path d="M258.5 936.6L266.6 950.8L250.4 950.8Z" fill="#422ebe"/>
<path d="M268.3 919.1L276.4 933.3L260.2 933.3Z" fill="#4539d9"/>
<path d="M278.2 907.1L286.3 921.3L270.1 921.3Z" fill="#4758f8"/>
<path d="M288.1 905.1L296.2 919.3L280 919.3Z" fill="#3f6eff"/>
<path d="M297.7 902L305.8 916.2L289.6 916.2Z" fill="#259ce7"/>
<path d="M307.5 905.8L315.6 920L299.4 920Z" fill="#259ce7"/>
<path d="M317.3 913.8L325.4 928L309.2 928Z" fill="#2d8cf3"/>
<path d="M327.3 931.3L335.4 945.5L319.2 945.5Z" fill="#4758f8"/>
<path d="M337.3 954L345.4 968.2L329.2 968.2Z" fill="#4539d9"/>
<path d="M346.9 982.3L355 996.5L338.8 996.5Z" fill="#422ebe"/>
<path d="M356.6 997.1L364.7 1011.3L348.5 1011.3Z" fill="#402bb7"/>
<path d="M366.6 1024.3L374.7 1038.5L358.5 1038.5Z" fill="#402bb7"/>
<path d="M376.7 1078.6L384.8 1092.8L368.6 1092.8Z" fill="#402bb7"/>
<path d="M386.4 1108.8L394.5 1123L378.3 1123Z" fill="#402bb7"/>
<path d="M396.6 1141.7L404.7 1155.9L388.5 1155.9Z" fill="#402bb7"/>
<text x="99.15" y="1385" font-size="24" fill="#1a1a1a" text-anchor="middle" font-family="Liberation Sans, sans-serif">10<tspan font-size="16.5" dy="-10.08">1</tspan></text>
<text x="236.3" y="1385" font-size="24" fill="#1a1a1a" text-anchor="middle" font-family="Liberation Sans, sans-serif">10<tspan font-size="16.5" dy="-10.08">2</tspan></text>
<text x="373.45" y="1385" font-size="24" fill="#1a1a1a" text-anchor="middle" font-family="Liberation Sans, sans-serif">10<tspan font-size="16.5" dy="-10.08">3</tspan></text>
<text x="510.6" y="1385" font-size="24" fill="#1a1a1a" text-anchor="middle" font-family="Liberation Sans, sans-serif">10<tspan font-size="16.5" dy="-10.08">4</tspan></text>
<text x="647.75" y="1385" font-size="24" fill="#1a1a1a" text-anchor="middle" font-family="Liberation Sans, sans-serif">10<tspan font-size="16.5" dy="-10.08">5</tspan></text>
<text x="86.15" y="812" font-size="24" fill="#1a1a1a" text-anchor="end" font-family="Liberation Sans, sans-serif">10<tspan font-size="16.5" dy="-10.08">2</tspan></text>
<text x="86.15" y="933.64" font-size="24" fill="#1a1a1a" text-anchor="end" font-family="Liberation Sans, sans-serif">10<tspan font-size="16.5" dy="-10.08">0</tspan></text>
<text x="86.15" y="1055.28" font-size="24" fill="#1a1a1a" text-anchor="end" font-family="Liberation Sans, sans-serif">10<tspan font-size="16.5" dy="-10.08">-2</tspan></text>
<text x="86.15" y="1176.92" font-size="24" fill="#1a1a1a" text-anchor="end" font-family="Liberation Sans, sans-serif">10<tspan font-size="16.5" dy="-10.08">-4</tspan></text>
<text x="86.15" y="1298.56" font-size="24" fill="#1a1a1a" text-anchor="end" font-family="Liberation Sans, sans-serif">10<tspan font-size="16.5" dy="-10.08">-6</tspan></text>
<rect x="450.3" y="819.5" width="181.1" height="83.3" fill="#fff" stroke="#111" stroke-width="2.4"/>
<circle cx="467.5" cy="836" r="6.4" fill="#402bb7"/>
<rect x="462.5" y="856" width="10" height="10" fill="#402bb7"/>
<path d="M467.5 880.4L474.2 891.6L460.8 891.6Z" fill="#402bb7"/>
<text x="482.5" y="843.4" font-size="22" fill="#000" font-family="Liberation Sans, sans-serif">UVP5</text>
<text x="482.5" y="868.4" font-size="22" fill="#000" font-family="Liberation Sans, sans-serif">CPICS</text>
<text x="482.5" y="893.4" font-size="22" fill="#000" font-family="Liberation Sans, sans-serif">LISST HOLO2</text>
<text transform="translate(118 858.8) scale(1.0 1)" font-size="49" fill="#555" font-family="Liberation Sans, sans-serif">c</text>
<defs><linearGradient id="gc" x1="0" y1="1" x2="0" y2="0"><stop offset="0" stop-color="#3e26a8"/><stop offset="0.02" stop-color="#402ab4"/><stop offset="0.03" stop-color="#422ec0"/><stop offset="0.05" stop-color="#4332cb"/><stop offset="0.06" stop-color="#4537d5"/><stop offset="0.08" stop-color="#463cde"/><stop offset="0.1" stop-color="#4741e5"/><stop offset="0.11" stop-color="#4747eb"/><stop offset="0.13" stop-color="#484df0"/><stop offset="0.14" stop-color="#4852f4"/><stop offset="0.16" stop-color="#4758f8"/><stop offset="0.17" stop-color="#465efb"/><stop offset="0.19" stop-color="#4563fd"/><stop offset="0.21" stop-color="#4269fe"/><stop offset="0.22" stop-color="#3e6fff"/><stop offset="0.24" stop-color="#3875fe"/><stop offset="0.25" stop-color="#327cfc"/><stop offset="0.27" stop-color="#2f81fa"/><stop offset="0.29" stop-color="#2e87f7"/><stop offset="0.3" stop-color="#2d8cf3"/><stop offset="0.32" stop-color="#2b91ef"/><stop offset="0.33" stop-color="#2797eb"/><stop offset="0.35" stop-color="#259be8"/><stop offset="0.37" stop-color="#23a0e5"/><stop offset="0.38" stop-color="#20a5e3"/><stop offset="0.4" stop-color="#1ca9df"/><stop offset="0.41" stop-color="#18addb"/><stop offset="0.43" stop-color="#12b1d6"/><stop offset="0.44" stop-color="#08b5d0"/><stop offset="0.46" stop-color="#01b8ca"/><stop offset="0.48" stop-color="#02bac3"/><stop offset="0.49" stop-color="#0bbdbd"/><stop offset="0.51" stop-color="#19bfb6"/><stop offset="0.52" stop-color="#24c1ae"/><stop offset="0.54" stop-color="#2cc4a7"/><stop offset="0.56" stop-color="#31c69f"/><stop offset="0.57" stop-color="#37c897"/><stop offset="0.59" stop-color="#3fca8e"/><stop offset="0.6" stop-color="#4acb84"/><stop offset="0.62" stop-color="#57cc7a"/><stop offset="0.63" stop-color="#64cd6f"/><stop offset="0.65" stop-color="#72cd64"/><stop offset="0.67" stop-color="#81cc59"/><stop offset="0.68" stop-color="#8fcb4e"/><stop offset="0.7" stop-color="#9dc943"/><stop offset="0.71" stop-color="#abc739"/><stop offset="0.73" stop-color="#b9c431"/><stop offset="0.75" stop-color="#c5c22a"/><stop offset="0.76" stop-color="#d1bf27"/><stop offset="0.78" stop-color="#dcbd29"/><stop offset="0.79" stop-color="#e6bb2d"/><stop offset="0.81" stop-color="#f0ba36"/><stop offset="0.83" stop-color="#f8ba3d"/><stop offset="0.84" stop-color="#febe3c"/><stop offset="0.86" stop-color="#fec338"/><stop offset="0.87" stop-color="#fec934"/><stop offset="0.89" stop-color="#fccf30"/><stop offset="0.9" stop-color="#fad62d"/><stop offset="0.92" stop-color="#f7dc2a"/><stop offset="0.94" stop-color="#f5e327"/><stop offset="0.95" stop-color="#f5e924"/><stop offset="0.97" stop-color="#f6ef20"/><stop offset="0.98" stop-color="#f7f51b"/><stop offset="1" stop-color="#f9fb15"/></linearGradient></defs>
<rect x="685" y="803.6" width="32.6" height="547.4" fill="url(#gc)" stroke="#262626" stroke-width="1"/>
<path d="M717.6 1296.26h-6M717.6 1241.52h-6M717.6 1186.78h-6M717.6 1132.04h-6M717.6 1077.3h-6M717.6 1022.56h-6M717.6 967.82h-6M717.6 913.08h-6M717.6 858.34h-6" stroke="#262626" stroke-width="1.2" fill="none"/>
<text x="726.4" y="1358.1" font-size="22.5" fill="#1a1a1a" font-family="Liberation Sans, sans-serif">0</text>
<text x="726.4" y="1303.36" font-size="22.5" fill="#1a1a1a" font-family="Liberation Sans, sans-serif">500</text>
<text x="726.4" y="1248.62" font-size="22.5" fill="#1a1a1a" font-family="Liberation Sans, sans-serif">1000</text>
<text x="726.4" y="1193.88" font-size="22.5" fill="#1a1a1a" font-family="Liberation Sans, sans-serif">1500</text>
<text x="726.4" y="1139.14" font-size="22.5" fill="#1a1a1a" font-family="Liberation Sans, sans-serif">2000</text>
<text x="726.4" y="1084.4" font-size="22.5" fill="#1a1a1a" font-family="Liberation Sans, sans-serif">2500</text>
<text x="726.4" y="1029.66" font-size="22.5" fill="#1a1a1a" font-family="Liberation Sans, sans-serif">3000</text>
<text x="726.4" y="974.92" font-size="22.5" fill="#1a1a1a" font-family="Liberation Sans, sans-serif">3500</text>
<text x="726.4" y="920.18" font-size="22.5" fill="#1a1a1a" font-family="Liberation Sans, sans-serif">4000</text>
<text x="726.4" y="865.44" font-size="22.5" fill="#1a1a1a" font-family="Liberation Sans, sans-serif">4500</text>
<text x="726.4" y="810.7" font-size="22.5" fill="#1a1a1a" font-family="Liberation Sans, sans-serif">5000</text>
<text x="384.2" y="779.5" font-size="36" fill="#525252" text-anchor="middle" font-family="Liberation Sans, sans-serif">Canny</text>
<text x="367.2" y="1433" font-size="30" fill="#4d4d4d" text-anchor="middle" letter-spacing="1.3" font-family="Liberation Sans, sans-serif">[µm]</text>
<text transform="translate(28 1077.3) rotate(-90)" font-size="26.5" fill="#1a1a1a" text-anchor="middle" xml:space="preserve" font-family="Liberation Sans, sans-serif">n  [L<tspan font-size="18.5" dy="-11.93">-1</tspan><tspan dy="11.93">  </tspan><tspan font-style="italic">μ</tspan>m<tspan font-size="18.5" dy="-11.93">-1</tspan><tspan dy="11.93">]</tspan></text>
<path d="M141.97 1601.5V2149.3M166.29 1601.5V2149.3M183.54 1601.5V2149.3M196.93 1601.5V2149.3M207.86 1601.5V2149.3M217.11 1601.5V2149.3M225.12 1601.5V2149.3M232.18 1601.5V2149.3M280.07 1601.5V2149.3M304.39 1601.5V2149.3M321.64 1601.5V2149.3M335.03 1601.5V2149.3M345.96 1601.5V2149.3M355.21 1601.5V2149.3M363.22 1601.5V2149.3M370.28 1601.5V2149.3M418.17 1601.5V2149.3M442.49 1601.5V2149.3M459.74 1601.5V2149.3M473.13 1601.5V2149.3M484.06 1601.5V2149.3M493.31 1601.5V2149.3M501.32 1601.5V2149.3M508.38 1601.5V2149.3M556.27 1601.5V2149.3M580.59 1601.5V2149.3M597.84 1601.5V2149.3M611.23 1601.5V2149.3M622.16 1601.5V2149.3M631.41 1601.5V2149.3M639.42 1601.5V2149.3M646.48 1601.5V2149.3" stroke="#c9c9c9" stroke-width="2.1" stroke-dasharray="2.5 3.85" fill="none"/>
<path d="M101.9 2132.38H651.3M101.9 2121.6H651.3M101.9 2113.95H651.3M101.9 2108.02H651.3M101.9 2071.18H651.3M101.9 2060.4H651.3M101.9 2052.75H651.3M101.9 2046.82H651.3M101.9 2009.98H651.3M101.9 1999.2H651.3M101.9 1991.55H651.3M101.9 1985.62H651.3M101.9 1948.78H651.3M101.9 1938H651.3M101.9 1930.35H651.3M101.9 1924.42H651.3M101.9 1887.58H651.3M101.9 1876.8H651.3M101.9 1869.15H651.3M101.9 1863.22H651.3M101.9 1826.38H651.3M101.9 1815.6H651.3M101.9 1807.95H651.3M101.9 1802.02H651.3M101.9 1765.18H651.3M101.9 1754.4H651.3M101.9 1746.75H651.3M101.9 1740.82H651.3M101.9 1703.98H651.3M101.9 1693.2H651.3M101.9 1685.55H651.3M101.9 1679.62H651.3M101.9 1642.78H651.3M101.9 1632H651.3M101.9 1624.35H651.3M101.9 1618.42H651.3" stroke="#c9c9c9" stroke-width="2.1" stroke-dasharray="2.5 3.85" fill="none"/>
<path d="M101.9 2150.8H651.3M101.9 2103.18H651.3M101.9 2099.08H651.3M101.9 2095.53H651.3M101.9 2092.4H651.3M101.9 2041.98H651.3M101.9 2037.88H651.3M101.9 2034.33H651.3M101.9 2031.2H651.3M101.9 2028.4H651.3M101.9 1980.78H651.3M101.9 1976.68H651.3M101.9 1973.13H651.3M101.9 1970H651.3M101.9 1919.58H651.3M101.9 1915.48H651.3M101.9 1911.93H651.3M101.9 1908.8H651.3M101.9 1906H651.3M101.9 1858.38H651.3M101.9 1854.28H651.3M101.9 1850.73H651.3M101.9 1847.6H651.3M101.9 1797.18H651.3M101.9 1793.08H651.3M101.9 1789.53H651.3M101.9 1786.4H651.3M101.9 1783.6H651.3M101.9 1735.98H651.3M101.9 1731.88H651.3M101.9 1728.33H651.3M101.9 1725.2H651.3M101.9 1674.78H651.3M101.9 1670.68H651.3M101.9 1667.13H651.3M101.9 1664H651.3M101.9 1661.2H651.3M101.9 1613.58H651.3M101.9 1609.48H651.3M101.9 1605.93H651.3M101.9 1602.8H651.3" stroke="#cfcfcf" stroke-width="2.9" stroke-dasharray="2.5 3.85" fill="none"/>
<path d="M238.5 1600V2150.8M376.6 1600V2150.8M514.7 1600V2150.8M100.4 1722.4H652.8M100.4 1844.8H652.8M100.4 1967.2H652.8M100.4 2089.6H652.8" stroke="#d4d4d4" stroke-width="2" fill="none"/>
<path d="M100.4 2150.8v-8.1M100.4 1600v8.1M238.5 2150.8v-8.1M238.5 1600v8.1M376.6 2150.8v-8.1M376.6 1600v8.1M514.7 2150.8v-8.1M514.7 1600v8.1M652.8 2150.8v-8.1M652.8 1600v8.1M141.97 2150.8v-5.1M141.97 1600v5.1M166.29 2150.8v-5.1M166.29 1600v5.1M183.54 2150.8v-5.1M183.54 1600v5.1M196.93 2150.8v-5.1M196.93 1600v5.1M207.86 2150.8v-5.1M207.86 1600v5.1M217.11 2150.8v-5.1M217.11 1600v5.1M225.12 2150.8v-5.1M225.12 1600v5.1M232.18 2150.8v-5.1M232.18 1600v5.1M280.07 2150.8v-5.1M280.07 1600v5.1M304.39 2150.8v-5.1M304.39 1600v5.1M321.64 2150.8v-5.1M321.64 1600v5.1M335.03 2150.8v-5.1M335.03 1600v5.1M345.96 2150.8v-5.1M345.96 1600v5.1M355.21 2150.8v-5.1M355.21 1600v5.1M363.22 2150.8v-5.1M363.22 1600v5.1M370.28 2150.8v-5.1M370.28 1600v5.1M418.17 2150.8v-5.1M418.17 1600v5.1M442.49 2150.8v-5.1M442.49 1600v5.1M459.74 2150.8v-5.1M459.74 1600v5.1M473.13 2150.8v-5.1M473.13 1600v5.1M484.06 2150.8v-5.1M484.06 1600v5.1M493.31 2150.8v-5.1M493.31 1600v5.1M501.32 2150.8v-5.1M501.32 1600v5.1M508.38 2150.8v-5.1M508.38 1600v5.1M556.27 2150.8v-5.1M556.27 1600v5.1M580.59 2150.8v-5.1M580.59 1600v5.1M597.84 2150.8v-5.1M597.84 1600v5.1M611.23 2150.8v-5.1M611.23 1600v5.1M622.16 2150.8v-5.1M622.16 1600v5.1M631.41 2150.8v-5.1M631.41 1600v5.1M639.42 2150.8v-5.1M639.42 1600v5.1M646.48 2150.8v-5.1M646.48 1600v5.1M100.4 1600h8.1M652.8 1600h-8.1M100.4 1722.4h8.1M652.8 1722.4h-8.1M100.4 1844.8h8.1M652.8 1844.8h-8.1M100.4 1967.2h8.1M652.8 1967.2h-8.1M100.4 2089.6h8.1M652.8 2089.6h-8.1M100.4 2150.8h5.1M652.8 2150.8h-5.1M100.4 2132.38h5.1M652.8 2132.38h-5.1M100.4 2121.6h5.1M652.8 2121.6h-5.1M100.4 2113.95h5.1M652.8 2113.95h-5.1M100.4 2108.02h5.1M652.8 2108.02h-5.1M100.4 2103.18h5.1M652.8 2103.18h-5.1M100.4 2099.08h5.1M652.8 2099.08h-5.1M100.4 2095.53h5.1M652.8 2095.53h-5.1M100.4 2092.4h5.1M652.8 2092.4h-5.1M100.4 2071.18h5.1M652.8 2071.18h-5.1M100.4 2060.4h5.1M652.8 2060.4h-5.1M100.4 2052.75h5.1M652.8 2052.75h-5.1M100.4 2046.82h5.1M652.8 2046.82h-5.1M100.4 2041.98h5.1M652.8 2041.98h-5.1M100.4 2037.88h5.1M652.8 2037.88h-5.1M100.4 2034.33h5.1M652.8 2034.33h-5.1M100.4 2031.2h5.1M652.8 2031.2h-5.1M100.4 2028.4h5.1M652.8 2028.4h-5.1M100.4 2009.98h5.1M652.8 2009.98h-5.1M100.4 1999.2h5.1M652.8 1999.2h-5.1M100.4 1991.55h5.1M652.8 1991.55h-5.1M100.4 1985.62h5.1M652.8 1985.62h-5.1M100.4 1980.78h5.1M652.8 1980.78h-5.1M100.4 1976.68h5.1M652.8 1976.68h-5.1M100.4 1973.13h5.1M652.8 1973.13h-5.1M100.4 1970h5.1M652.8 1970h-5.1M100.4 1948.78h5.1M652.8 1948.78h-5.1M100.4 1938h5.1M652.8 1938h-5.1M100.4 1930.35h5.1M652.8 1930.35h-5.1M100.4 1924.42h5.1M652.8 1924.42h-5.1M100.4 1919.58h5.1M652.8 1919.58h-5.1M100.4 1915.48h5.1M652.8 1915.48h-5.1M100.4 1911.93h5.1M652.8 1911.93h-5.1M100.4 1908.8h5.1M652.8 1908.8h-5.1M100.4 1906h5.1M652.8 1906h-5.1M100.4 1887.58h5.1M652.8 1887.58h-5.1M100.4 1876.8h5.1M652.8 1876.8h-5.1M100.4 1869.15h5.1M652.8 1869.15h-5.1M100.4 1863.22h5.1M652.8 1863.22h-5.1M100.4 1858.38h5.1M652.8 1858.38h-5.1M100.4 1854.28h5.1M652.8 1854.28h-5.1M100.4 1850.73h5.1M652.8 1850.73h-5.1M100.4 1847.6h5.1M652.8 1847.6h-5.1M100.4 1826.38h5.1M652.8 1826.38h-5.1M100.4 1815.6h5.1M652.8 1815.6h-5.1M100.4 1807.95h5.1M652.8 1807.95h-5.1M100.4 1802.02h5.1M652.8 1802.02h-5.1M100.4 1797.18h5.1M652.8 1797.18h-5.1M100.4 1793.08h5.1M652.8 1793.08h-5.1M100.4 1789.53h5.1M652.8 1789.53h-5.1M100.4 1786.4h5.1M652.8 1786.4h-5.1M100.4 1783.6h5.1M652.8 1783.6h-5.1M100.4 1765.18h5.1M652.8 1765.18h-5.1M100.4 1754.4h5.1M652.8 1754.4h-5.1M100.4 1746.75h5.1M652.8 1746.75h-5.1M100.4 1740.82h5.1M652.8 1740.82h-5.1M100.4 1735.98h5.1M652.8 1735.98h-5.1M100.4 1731.88h5.1M652.8 1731.88h-5.1M100.4 1728.33h5.1M652.8 1728.33h-5.1M100.4 1725.2h5.1M652.8 1725.2h-5.1M100.4 1703.98h5.1M652.8 1703.98h-5.1M100.4 1693.2h5.1M652.8 1693.2h-5.1M100.4 1685.55h5.1M652.8 1685.55h-5.1M100.4 1679.62h5.1M652.8 1679.62h-5.1M100.4 1674.78h5.1M652.8 1674.78h-5.1M100.4 1670.68h5.1M652.8 1670.68h-5.1M100.4 1667.13h5.1M652.8 1667.13h-5.1M100.4 1664h5.1M652.8 1664h-5.1M100.4 1661.2h5.1M652.8 1661.2h-5.1M100.4 1642.78h5.1M652.8 1642.78h-5.1M100.4 1632h5.1M652.8 1632h-5.1M100.4 1624.35h5.1M652.8 1624.35h-5.1M100.4 1618.42h5.1M652.8 1618.42h-5.1M100.4 1613.58h5.1M652.8 1613.58h-5.1M100.4 1609.48h5.1M652.8 1609.48h-5.1M100.4 1605.93h5.1M652.8 1605.93h-5.1M100.4 1602.8h5.1M652.8 1602.8h-5.1" stroke="#1a1a1a" stroke-width="2.0" fill="none"/>
<rect x="100.4" y="1600" width="552.4" height="550.8" fill="none" stroke="#1a1a1a" stroke-width="3.2"/>
<rect x="373.8" y="1596.4" width="5.6" height="3" fill="#1a1a1a"/>
<circle cx="340.3" cy="2121.54" r="7.4" fill="#402bb7"/>
<circle cx="350.17" cy="1949.27" r="7.4" fill="#4755f6"/>
<circle cx="359.94" cy="1902.78" r="7.4" fill="#f9fb15"/>
<circle cx="369.6" cy="1898.96" r="7.4" fill="#f9fb15"/>
<circle cx="379.37" cy="1902.18" r="7.4" fill="#f9fb15"/>
<circle cx="389.64" cy="1910.83" r="7.4" fill="#f6f020"/>
<circle cx="399.91" cy="1928.74" r="7.4" fill="#eaba31"/>
<circle cx="409.68" cy="1940.61" r="7.4" fill="#41ca8c"/>
<circle cx="419.44" cy="1943.33" r="7.4" fill="#64cd6f"/>
<circle cx="429.11" cy="1943.63" r="7.4" fill="#9fc942"/>
<circle cx="439.38" cy="1955.71" r="7.4" fill="#31c6a0"/>
<circle cx="449.15" cy="1965.97" r="7.4" fill="#11b1d6"/>
<circle cx="459.42" cy="1980.56" r="7.4" fill="#2d8cf3"/>
<circle cx="468.88" cy="1994.45" r="7.4" fill="#4367fd"/>
<circle cx="478.85" cy="2005.82" r="7.4" fill="#4758f8"/>
<circle cx="488.92" cy="2020.01" r="7.4" fill="#484aee"/>
<circle cx="498.99" cy="2035.91" r="7.4" fill="#4539d9"/>
<circle cx="508.96" cy="2057.94" r="7.4" fill="#4433cc"/>
<circle cx="518.32" cy="2081.49" r="7.4" fill="#422ebe"/>
<circle cx="528.39" cy="2105.44" r="7.4" fill="#402bb7"/>
<circle cx="538.36" cy="2129.99" r="7.4" fill="#3f29b0"/>
<rect x="204.76" y="1850.84" width="11.5" height="11.5" fill="#402bb7"/>
<rect x="215.23" y="1818.34" width="11.5" height="11.5" fill="#402bb7"/>
<rect x="225.4" y="1780.51" width="11.5" height="11.5" fill="#402bb7"/>
<rect x="235.47" y="1789.36" width="11.5" height="11.5" fill="#402bb7"/>
<rect x="244.93" y="1775.78" width="11.5" height="11.5" fill="#402bb7"/>
<rect x="255.1" y="1785.54" width="11.5" height="11.5" fill="#402bb7"/>
<rect x="264.97" y="1768.33" width="11.5" height="11.5" fill="#402bb7"/>
<rect x="274.74" y="1735.23" width="11.5" height="11.5" fill="#4330c5"/>
<rect x="284.91" y="1715.7" width="11.5" height="11.5" fill="#473fe3"/>
<rect x="294.78" y="1712.38" width="11.5" height="11.5" fill="#4747eb"/>
<rect x="304.44" y="1717.01" width="11.5" height="11.5" fill="#473fe3"/>
<rect x="314.61" y="1733.21" width="11.5" height="11.5" fill="#4539d9"/>
<rect x="324.38" y="1747.7" width="11.5" height="11.5" fill="#4536d3"/>
<rect x="334.55" y="1756.26" width="11.5" height="11.5" fill="#4330c5"/>
<rect x="344.42" y="1769.04" width="11.5" height="11.5" fill="#402bb7"/>
<rect x="354.08" y="1791.37" width="11.5" height="11.5" fill="#402bb7"/>
<rect x="363.95" y="1800.13" width="11.5" height="11.5" fill="#402bb7"/>
<rect x="374.12" y="1833.23" width="11.5" height="11.5" fill="#402bb7"/>
<rect x="384.49" y="1874.79" width="11.5" height="11.5" fill="#402bb7"/>
<rect x="394.16" y="1917.05" width="11.5" height="11.5" fill="#402bb7"/>
<rect x="404.13" y="1939.19" width="11.5" height="11.5" fill="#402bb7"/>
<path d="M131.88 1748.38L140.08 1762.68L123.68 1762.68Z" fill="#402bb7"/>
<path d="M141.74 1691.34L149.94 1705.64L133.54 1705.64Z" fill="#422ebe"/>
<path d="M151.59 1662.46L159.79 1676.76L143.39 1676.76Z" fill="#463cde"/>
<path d="M161.34 1656.99L169.54 1671.29L153.14 1671.29Z" fill="#484ef1"/>
<path d="M171.4 1659.32L179.6 1673.62L163.2 1673.62Z" fill="#4851f4"/>
<path d="M181.56 1663.47L189.76 1677.77L173.36 1677.77Z" fill="#4755f6"/>
<path d="M191.41 1679.89L199.61 1694.19L183.21 1694.19Z" fill="#473fe3"/>
<path d="M201.26 1690.43L209.46 1704.73L193.06 1704.73Z" fill="#463cde"/>
<path d="M211.22 1701.67L219.42 1715.97L203.02 1715.97Z" fill="#4536d3"/>
<path d="M221.17 1707.04L229.37 1721.34L212.97 1721.34Z" fill="#4433cc"/>
<path d="M231.03 1721.23L239.23 1735.53L222.83 1735.53Z" fill="#4332c9"/>
<path d="M241.08 1723.96L249.28 1738.26L232.88 1738.26Z" fill="#4332c9"/>
<path d="M251.24 1717.48L259.44 1731.78L243.04 1731.78Z" fill="#4539d9"/>
<path d="M261.3 1703.8L269.5 1718.1L253.1 1718.1Z" fill="#484ef1"/>
<path d="M270.85 1690.63L279.05 1704.93L262.65 1704.93Z" fill="#2d8cf3"/>
<path d="M281 1683.03L289.2 1697.33L272.8 1697.33Z" fill="#0ab4d2"/>
<path d="M290.86 1689.11L299.06 1703.41L282.66 1703.41Z" fill="#1caadf"/>
<path d="M300.91 1701.06L309.11 1715.36L292.71 1715.36Z" fill="#2895ec"/>
<path d="M310.67 1719.2L318.87 1733.5L302.47 1733.5Z" fill="#465ffb"/>
<path d="M320.62 1739.37L328.82 1753.67L312.42 1753.67Z" fill="#4539d9"/>
<path d="M330.07 1762.97L338.27 1777.27L321.87 1777.27Z" fill="#4330c5"/>
<path d="M340.23 1784.45L348.43 1798.75L332.03 1798.75Z" fill="#422ebe"/>
<path d="M350.08 1795.8L358.28 1810.1L341.88 1810.1Z" fill="#422ebe"/>
<path d="M360.03 1818.7L368.23 1833L351.83 1833Z" fill="#402bb7"/>
<path d="M370.29 1855.79L378.49 1870.09L362.09 1870.09Z" fill="#402bb7"/>
<path d="M380.25 1888.72L388.45 1903.02L372.05 1903.02Z" fill="#402bb7"/>
<path d="M390.1 1918L398.3 1932.3L381.9 1932.3Z" fill="#402bb7"/>
<text x="100.4" y="2184.8" font-size="24" fill="#1a1a1a" text-anchor="middle" font-family="Liberation Sans, sans-serif">10<tspan font-size="16.5" dy="-10.08">1</tspan></text>
<text x="238.5" y="2184.8" font-size="24" fill="#1a1a1a" text-anchor="middle" font-family="Liberation Sans, sans-serif">10<tspan font-size="16.5" dy="-10.08">2</tspan></text>
<text x="376.6" y="2184.8" font-size="24" fill="#1a1a1a" text-anchor="middle" font-family="Liberation Sans, sans-serif">10<tspan font-size="16.5" dy="-10.08">3</tspan></text>
<text x="514.7" y="2184.8" font-size="24" fill="#1a1a1a" text-anchor="middle" font-family="Liberation Sans, sans-serif">10<tspan font-size="16.5" dy="-10.08">4</tspan></text>
<text x="652.8" y="2184.8" font-size="24" fill="#1a1a1a" text-anchor="middle" font-family="Liberation Sans, sans-serif">10<tspan font-size="16.5" dy="-10.08">5</tspan></text>
<text x="87.4" y="1608.4" font-size="24" fill="#1a1a1a" text-anchor="end" font-family="Liberation Sans, sans-serif">10<tspan font-size="16.5" dy="-10.08">2</tspan></text>
<text x="87.4" y="1730.8" font-size="24" fill="#1a1a1a" text-anchor="end" font-family="Liberation Sans, sans-serif">10<tspan font-size="16.5" dy="-10.08">0</tspan></text>
<text x="87.4" y="1853.2" font-size="24" fill="#1a1a1a" text-anchor="end" font-family="Liberation Sans, sans-serif">10<tspan font-size="16.5" dy="-10.08">-2</tspan></text>
<text x="87.4" y="1975.6" font-size="24" fill="#1a1a1a" text-anchor="end" font-family="Liberation Sans, sans-serif">10<tspan font-size="16.5" dy="-10.08">-4</tspan></text>
<text x="87.4" y="2098" font-size="24" fill="#1a1a1a" text-anchor="end" font-family="Liberation Sans, sans-serif">10<tspan font-size="16.5" dy="-10.08">-6</tspan></text>
<rect x="455.1" y="1616" width="181.7" height="83.3" fill="#fff" stroke="#111" stroke-width="2.4"/>
<circle cx="471.3" cy="1632.5" r="6.4" fill="#402bb7"/>
<rect x="466.3" y="1652.5" width="10" height="10" fill="#402bb7"/>
<path d="M471.3 1676.9L478 1688.1L464.6 1688.1Z" fill="#402bb7"/>
<text x="486.2" y="1639.9" font-size="22" fill="#000" font-family="Liberation Sans, sans-serif">UVP5</text>
<text x="486.2" y="1664.9" font-size="22" fill="#000" font-family="Liberation Sans, sans-serif">CPICS</text>
<text x="486.2" y="1689.9" font-size="22" fill="#000" font-family="Liberation Sans, sans-serif">LISST HOLO2</text>
<text transform="translate(117.3 1657.5) scale(1.0 1)" font-size="49" fill="#555" font-family="Liberation Sans, sans-serif">e</text>
<defs><linearGradient id="ge" x1="0" y1="1" x2="0" y2="0"><stop offset="0" stop-color="#3e26a8"/><stop offset="0.02" stop-color="#402ab4"/><stop offset="0.03" stop-color="#422ec0"/><stop offset="0.05" stop-color="#4332cb"/><stop offset="0.06" stop-color="#4537d5"/><stop offset="0.08" stop-color="#463cde"/><stop offset="0.1" stop-color="#4741e5"/><stop offset="0.11" stop-color="#4747eb"/><stop offset="0.13" stop-color="#484df0"/><stop offset="0.14" stop-color="#4852f4"/><stop offset="0.16" stop-color="#4758f8"/><stop offset="0.17" stop-color="#465efb"/><stop offset="0.19" stop-color="#4563fd"/><stop offset="0.21" stop-color="#4269fe"/><stop offset="0.22" stop-color="#3e6fff"/><stop offset="0.24" stop-color="#3875fe"/><stop offset="0.25" stop-color="#327cfc"/><stop offset="0.27" stop-color="#2f81fa"/><stop offset="0.29" stop-color="#2e87f7"/><stop offset="0.3" stop-color="#2d8cf3"/><stop offset="0.32" stop-color="#2b91ef"/><stop offset="0.33" stop-color="#2797eb"/><stop offset="0.35" stop-color="#259be8"/><stop offset="0.37" stop-color="#23a0e5"/><stop offset="0.38" stop-color="#20a5e3"/><stop offset="0.4" stop-color="#1ca9df"/><stop offset="0.41" stop-color="#18addb"/><stop offset="0.43" stop-color="#12b1d6"/><stop offset="0.44" stop-color="#08b5d0"/><stop offset="0.46" stop-color="#01b8ca"/><stop offset="0.48" stop-color="#02bac3"/><stop offset="0.49" stop-color="#0bbdbd"/><stop offset="0.51" stop-color="#19bfb6"/><stop offset="0.52" stop-color="#24c1ae"/><stop offset="0.54" stop-color="#2cc4a7"/><stop offset="0.56" stop-color="#31c69f"/><stop offset="0.57" stop-color="#37c897"/><stop offset="0.59" stop-color="#3fca8e"/><stop offset="0.6" stop-color="#4acb84"/><stop offset="0.62" stop-color="#57cc7a"/><stop offset="0.63" stop-color="#64cd6f"/><stop offset="0.65" stop-color="#72cd64"/><stop offset="0.67" stop-color="#81cc59"/><stop offset="0.68" stop-color="#8fcb4e"/><stop offset="0.7" stop-color="#9dc943"/><stop offset="0.71" stop-color="#abc739"/><stop offset="0.73" stop-color="#b9c431"/><stop offset="0.75" stop-color="#c5c22a"/><stop offset="0.76" stop-color="#d1bf27"/><stop offset="0.78" stop-color="#dcbd29"/><stop offset="0.79" stop-color="#e6bb2d"/><stop offset="0.81" stop-color="#f0ba36"/><stop offset="0.83" stop-color="#f8ba3d"/><stop offset="0.84" stop-color="#febe3c"/><stop offset="0.86" stop-color="#fec338"/><stop offset="0.87" stop-color="#fec934"/><stop offset="0.89" stop-color="#fccf30"/><stop offset="0.9" stop-color="#fad62d"/><stop offset="0.92" stop-color="#f7dc2a"/><stop offset="0.94" stop-color="#f5e327"/><stop offset="0.95" stop-color="#f5e924"/><stop offset="0.97" stop-color="#f6ef20"/><stop offset="0.98" stop-color="#f7f51b"/><stop offset="1" stop-color="#f9fb15"/></linearGradient></defs>
<rect x="690.2" y="1600" width="33.3" height="550.8" fill="url(#ge)" stroke="#262626" stroke-width="1"/>
<path d="M723.5 2095.72h-6M723.5 2040.64h-6M723.5 1985.56h-6M723.5 1930.48h-6M723.5 1875.4h-6M723.5 1820.32h-6M723.5 1765.24h-6M723.5 1710.16h-6M723.5 1655.08h-6" stroke="#262626" stroke-width="1.2" fill="none"/>
<text x="731" y="2157.9" font-size="22.5" fill="#1a1a1a" font-family="Liberation Sans, sans-serif">0</text>
<text x="731" y="2102.82" font-size="22.5" fill="#1a1a1a" font-family="Liberation Sans, sans-serif">500</text>
<text x="731" y="2047.74" font-size="22.5" fill="#1a1a1a" font-family="Liberation Sans, sans-serif">1000</text>
<text x="731" y="1992.66" font-size="22.5" fill="#1a1a1a" font-family="Liberation Sans, sans-serif">1500</text>
<text x="731" y="1937.58" font-size="22.5" fill="#1a1a1a" font-family="Liberation Sans, sans-serif">2000</text>
<text x="731" y="1882.5" font-size="22.5" fill="#1a1a1a" font-family="Liberation Sans, sans-serif">2500</text>
<text x="731" y="1827.42" font-size="22.5" fill="#1a1a1a" font-family="Liberation Sans, sans-serif">3000</text>
<text x="731" y="1772.34" font-size="22.5" fill="#1a1a1a" font-family="Liberation Sans, sans-serif">3500</text>
<text x="731" y="1717.26" font-size="22.5" fill="#1a1a1a" font-family="Liberation Sans, sans-serif">4000</text>
<text x="731" y="1662.18" font-size="22.5" fill="#1a1a1a" font-family="Liberation Sans, sans-serif">4500</text>
<text x="731" y="1607.1" font-size="22.5" fill="#1a1a1a" font-family="Liberation Sans, sans-serif">5000</text>
<text x="393" y="1576.5" font-size="36" fill="#525252" text-anchor="middle" font-family="Liberation Sans, sans-serif">Otsu &amp; Canny</text>
<text x="367.2" y="2234" font-size="30" fill="#4d4d4d" text-anchor="middle" letter-spacing="1.3" font-family="Liberation Sans, sans-serif">[µm]</text>
<text transform="translate(28 1875.4) rotate(-90)" font-size="26.5" fill="#1a1a1a" text-anchor="middle" xml:space="preserve" font-family="Liberation Sans, sans-serif">n  [L<tspan font-size="18.5" dy="-11.93">-1</tspan><tspan dy="11.93">  </tspan><tspan font-style="italic">μ</tspan>m<tspan font-size="18.5" dy="-11.93">-1</tspan><tspan dy="11.93">]</tspan></text>
<rect x="409.8" y="1714.3" width="95.3" height="87.1" fill="#0b0b0d"/>
<defs><radialGradient id="pd0"><stop offset="0" stop-color="#120e09"/><stop offset="0.7" stop-color="#2a2014"/><stop offset="1" stop-color="#5e4a2c"/></radialGradient><radialGradient id="pd1"><stop offset="0" stop-color="#3a3020"/><stop offset="0.8" stop-color="#4e4030"/><stop offset="1" stop-color="#6e5a3a"/></radialGradient><radialGradient id="pd2"><stop offset="0" stop-color="#3a2810"/><stop offset="0.7" stop-color="#5a3e18"/><stop offset="1" stop-color="#9a7438"/></radialGradient></defs>
<path d="M413.13 1728.17L415.45 1723.54L420.08 1721.6L427.03 1721.99L433.21 1723.54L436.3 1726.62L438.62 1730.49L438.62 1735.89L436.3 1738.98L432.44 1739.75L427.03 1738.21L421.62 1736.67L416.22 1734.35L413.52 1731.26Z" fill="url(#pd0)" stroke="#8a7048" stroke-width="0.8" stroke-linejoin="round"/>
<path d="M444.79 1732.03L447.11 1726.62L450.97 1722.76L455.61 1721.22L461.79 1721.99L467.19 1724.31L470.28 1728.17L470.67 1734.35L467.96 1738.98L462.56 1741.3L455.61 1742.07L449.43 1740.53L445.57 1737.44Z" fill="url(#pd0)" stroke="#8a7048" stroke-width="0.8" stroke-linejoin="round"/>
<path d="M476.07 1728.94L478.78 1725.85L481.87 1723.54L486.5 1721.99L491.91 1720.45L495.77 1721.99L498.08 1725.85L500.4 1729.71L501.95 1733.58L501.17 1737.44L496.54 1738.21L491.13 1737.44L484.96 1735.89L479.55 1734.35L476.46 1732.03Z" fill="url(#pd1)" stroke="#8a7048" stroke-width="0.8" stroke-linejoin="round"/>
<path d="M414.29 1754.43L416.22 1751.34L420.08 1750.57L425.49 1752.11L430.89 1752.88L434.75 1755.2L438.62 1758.29L440.93 1762.15L440.16 1766.79L437.07 1769.87L432.44 1770.65L427.03 1768.33L422.4 1766.01L417.76 1762.15L414.67 1758.29Z" fill="url(#pd2)" stroke="#8a7048" stroke-width="0.8" stroke-linejoin="round"/>
<path d="M444.02 1754.43L446.34 1751.34L450.97 1750.57L456.38 1751.34L461.79 1750.57L467.19 1752.11L470.28 1755.97L470.67 1760.61L467.96 1764.47L461.79 1766.01L455.61 1766.79L450.97 1769.1L447.11 1769.87L444.79 1766.01L444.02 1760.61Z" fill="url(#pd1)" stroke="#8a7048" stroke-width="0.8" stroke-linejoin="round"/>
<path d="M477.23 1757.52L478.78 1751.34L483.41 1747.48L489.59 1746.32L495.77 1747.48L500.4 1751.34L502.33 1757.52L501.17 1763.7L497.31 1768.33L491.13 1769.87L484.18 1769.1L479.55 1766.01L477.62 1762.15Z" fill="url(#pd0)" stroke="#8a7048" stroke-width="0.8" stroke-linejoin="round"/>
<path d="M415.45 1785.32L416.99 1779.14L420.85 1774.51L426.26 1772.96L431.67 1774.51L435.53 1778.37L436.69 1783L435.53 1789.18L431.67 1794.59L426.26 1796.91L420.85 1796.13L416.99 1792.27Z" fill="url(#pd0)" stroke="#8a7048" stroke-width="0.8" stroke-linejoin="round"/>
<path d="M444.02 1780.69L446.34 1776.05L452.52 1774.51L458.7 1774.51L464.1 1776.83L469.51 1780.69L471.83 1785.32L471.05 1791.5L467.19 1796.13L461.01 1798.45L455.61 1799.22L449.43 1797.68L445.57 1794.59L444.41 1788.41Z" fill="url(#pd0)" stroke="#8a7048" stroke-width="0.8" stroke-linejoin="round"/>
<path d="M475.69 1785.32L477.23 1780.69L481.87 1779.14L488.82 1778.76L495.77 1779.14L500.4 1781.46L501.56 1785.32L499.63 1789.18L494.22 1791.5L487.27 1793.04L481.09 1793.82L477.23 1791.5Z" fill="url(#pd1)" stroke="#8a7048" stroke-width="0.8" stroke-linejoin="round"/>
<rect x="219.9" y="1833.4" width="104.3" height="76.5" fill="#fff" stroke="#cfcfcf" stroke-width="1"/>
<rect x="224.1" y="1836" width="29.3" height="21.7" fill="#808080"/>
<path d="M225.51 1846.41L227.39 1840.77L232.56 1837.48L238.21 1836.54L245.73 1836.54L250.43 1838.89L252.78 1843.59L252.31 1848.29L248.55 1852.05L243.85 1854.87L238.21 1856.28L232.56 1856.28L227.86 1854.87L225.04 1851.11Z" fill="#242424" stroke="#3a3a3a" stroke-width="0.8" stroke-linejoin="round"/>
<rect x="258.9" y="1838.9" width="28" height="19" fill="#7c7c7c"/>
<path d="M259.36 1850.17L261.24 1844.53L266.41 1841.24L272.99 1839.83L279.58 1839.83L284.28 1842.18L286.16 1846.41L285.22 1852.05L281.46 1855.81L274.87 1857.22L267.35 1857.22L261.71 1855.81L259.64 1852.99Z" fill="#242424" stroke="#3a3a3a" stroke-width="0.8" stroke-linejoin="round"/>
<rect x="291.3" y="1836" width="29.6" height="25" fill="#8c8c8c"/>
<path d="M294.62 1853.93L297.44 1849.23L302.14 1846.41L307.78 1843.59L313.42 1841.24L317.18 1840.77L318.12 1845.47L316.24 1850.17L312.48 1853.93L307.78 1856.75L302.14 1857.69L296.5 1857.69Z" fill="#242424" stroke="#3a3a3a" stroke-width="0.8" stroke-linejoin="round"/>
<rect x="223.2" y="1861" width="32.9" height="21.6" fill="#7a7a7a"/>
<path d="M224.1 1872.74L225.98 1866.16L231.62 1862.4L240.09 1861.46L247.61 1862.4L253.25 1865.22L255.6 1869.92L254.19 1875.56L249.49 1879.32L241.97 1881.67L234.45 1882.61L228.8 1880.73L225.04 1877.44Z" fill="#242424" stroke="#3a3a3a" stroke-width="0.8" stroke-linejoin="round"/>
<rect x="258.9" y="1861.6" width="28" height="20" fill="#828282"/>
<path d="M259.36 1872.74L261.71 1867.1L267.35 1863.81L274.87 1862.4L282.4 1862.87L286.16 1866.16L286.63 1871.8L284.28 1876.5L279.58 1879.32L273.93 1881.2L267.35 1880.73L261.71 1877.44Z" fill="#242424" stroke="#3a3a3a" stroke-width="0.8" stroke-linejoin="round"/>
<rect x="291" y="1862.8" width="29" height="18.8" fill="#7e7e7e"/>
<path d="M291.8 1872.74L293.68 1867.1L299.32 1863.81L306.84 1862.87L314.36 1863.81L319.06 1867.1L319.53 1872.74L317.18 1877.44L311.54 1880.26L304.02 1881.2L296.5 1880.26L292.74 1877.44Z" fill="#242424" stroke="#3a3a3a" stroke-width="0.8" stroke-linejoin="round"/>
<rect x="223.2" y="1884.5" width="32.9" height="23" fill="#888888"/>
<path d="M223.63 1901.88L225.98 1894.36L231.62 1888.72L238.21 1885.9L245.73 1885.9L251.37 1889.66L255.13 1895.3L255.13 1901.88L250.43 1906.12L241.97 1907.34L232.56 1907.34L225.98 1906.12Z" fill="#242424" stroke="#3a3a3a" stroke-width="0.8" stroke-linejoin="round"/>
<rect x="258" y="1884.5" width="31" height="23" fill="#7a7a7a"/>
<path d="M258.42 1902.82L260.77 1896.24L265.47 1890.6L271.11 1886.84L277.69 1885.43L283.34 1887.78L288.04 1892.48L288.51 1899.06L285.22 1904.7L277.69 1907.34L268.29 1907.34L261.71 1906.12Z" fill="#242424" stroke="#3a3a3a" stroke-width="0.8" stroke-linejoin="round"/>
<rect x="291" y="1885.4" width="29.9" height="21.5" fill="#848484"/>
<path d="M291.8 1898.12L294.62 1892.48L300.26 1888.72L306.84 1886.84L313.42 1887.78L319.06 1891.54L320.47 1897.18L318.12 1901.88L311.54 1904.7L303.08 1905.64L296.5 1904.23L292.74 1901.88Z" fill="#242424" stroke="#3a3a3a" stroke-width="0.8" stroke-linejoin="round"/>
<rect x="298.9" y="2016.4" width="149.2" height="50.3" fill="#fff" stroke="#666" stroke-width="1.2"/>
<defs><filter id="blr" x="-30%" y="-30%" width="160%" height="160%"><feGaussianBlur stdDeviation="0.9"/></filter></defs>
<g filter="url(#blr)">
<ellipse cx="320.8" cy="2047" rx="6.6" ry="5.9" fill="#050505" transform="rotate(0 320.8 2047)"/>
<ellipse cx="332" cy="2036" rx="5.4" ry="4.6" fill="#050505" transform="rotate(30 332 2036)"/>
<ellipse cx="339.1" cy="2040.4" rx="4.8" ry="4.4" fill="#050505" transform="rotate(0 339.1 2040.4)"/>
<ellipse cx="374" cy="2039.4" rx="5.2" ry="4.8" fill="#050505" transform="rotate(0 374 2039.4)"/>
<ellipse cx="380.4" cy="2045.9" rx="5.6" ry="5.3" fill="#050505" transform="rotate(0 380.4 2045.9)"/>
<ellipse cx="419.6" cy="2032.5" rx="6" ry="4.6" fill="#050505" transform="rotate(50 419.6 2032.5)"/>
<ellipse cx="432.7" cy="2047" rx="7" ry="5.2" fill="#050505" transform="rotate(10 432.7 2047)"/>
</g>
<path d="M405.3 1758.3L368 1758.3" stroke="#707070" stroke-width="3.3"/><path d="M353 1758.3L370 1750.05L370 1766.55Z" fill="#707070"/>
<path d="M299.3 1833.2L322.39 1812.67" stroke="#707070" stroke-width="3.3"/><path d="M333.6 1802.7L326.38 1820.16L315.41 1807.83Z" fill="#707070"/>
<path d="M394.5 2016.2L421.55 1979.21" stroke="#707070" stroke-width="3.3"/><path d="M430.4 1967.1L427.03 1985.69L413.71 1975.95Z" fill="#707070"/>
<path d="M897.3 556.98H1471.5M897.3 499.56H1471.5M897.3 442.14H1471.5M897.3 384.72H1471.5M897.3 327.3H1471.5M897.3 269.88H1471.5M897.3 212.46H1471.5M897.3 155.04H1471.5M897.3 97.62H1471.5M993 40.2V614.4M1088.7 40.2V614.4M1184.4 40.2V614.4M1280.1 40.2V614.4M1375.8 40.2V614.4" stroke="#dadada" stroke-width="1.5" fill="none"/>
<defs><pattern id="hb" patternUnits="userSpaceOnUse" width="11" height="11" patternTransform="rotate(0)"><path d="M-1 -1L12 12M-12 -1L1 12M10 -1L23 12" stroke="#8a8a8a" stroke-width="1.1"/></pattern><pattern id="hbL" patternUnits="userSpaceOnUse" width="9" height="9"><path d="M-1 10L10 -1M-10 10L1 -1M8 10L19 -1" stroke="#999" stroke-width="1.0"/></pattern></defs>
<rect x="961.1" y="462.24" width="21.27" height="152.16" fill="#b3b3b3" stroke="#2a2a2a" stroke-width="1.1"/>
<rect x="982.37" y="610.38" width="21.27" height="4.02" fill="#fff" stroke="#2a2a2a" stroke-width="1.1"/>
<rect x="1056.8" y="284.81" width="21.27" height="329.59" fill="#b3b3b3" stroke="#2a2a2a" stroke-width="1.1"/>
<rect x="1078.07" y="291.7" width="21.27" height="322.7" fill="#fff" stroke="#2a2a2a" stroke-width="1.1"/>
<defs><pattern id="hb1" patternUnits="userSpaceOnUse" x="1099.33" y="606.36" width="10.86" height="11.4"><path d="M-1 -1.05L11.86 12.45M-11.86 -1.05L1 12.45M9.86 -1.05L22.72 12.45" stroke="#8c8c8c" stroke-width="1.2"/></pattern></defs>
<rect x="1099.33" y="606.36" width="21.27" height="8.04" fill="url(#hb1)" stroke="#707070" stroke-width="1.1"/>
<rect x="1152.5" y="528.84" width="21.27" height="85.56" fill="#b3b3b3" stroke="#2a2a2a" stroke-width="1.1"/>
<rect x="1173.77" y="405.39" width="21.27" height="209.01" fill="#fff" stroke="#2a2a2a" stroke-width="1.1"/>
<defs><pattern id="hb2" patternUnits="userSpaceOnUse" x="1195.03" y="109.1" width="10.86" height="11.4"><path d="M-1 -1.05L11.86 12.45M-11.86 -1.05L1 12.45M9.86 -1.05L22.72 12.45" stroke="#8c8c8c" stroke-width="1.2"/></pattern></defs>
<rect x="1195.03" y="109.1" width="21.27" height="505.3" fill="url(#hb2)" stroke="#707070" stroke-width="1.1"/>
<rect x="1248.2" y="608.37" width="21.27" height="6.03" fill="#b3b3b3" stroke="#2a2a2a" stroke-width="1.1"/>
<rect x="1269.47" y="586.26" width="21.27" height="28.14" fill="#fff" stroke="#2a2a2a" stroke-width="1.1"/>
<defs><pattern id="hb3" patternUnits="userSpaceOnUse" x="1290.73" y="573.06" width="10.86" height="11.4"><path d="M-1 -1.05L11.86 12.45M-11.86 -1.05L1 12.45M9.86 -1.05L22.72 12.45" stroke="#8c8c8c" stroke-width="1.2"/></pattern></defs>
<rect x="1290.73" y="573.06" width="21.27" height="41.34" fill="url(#hb3)" stroke="#707070" stroke-width="1.1"/>
<rect x="1343.9" y="613.71" width="21.27" height="0.69" fill="#b3b3b3" stroke="#2a2a2a" stroke-width="1.1"/>
<rect x="1365.17" y="603.78" width="21.27" height="10.62" fill="#fff" stroke="#2a2a2a" stroke-width="1.1"/>
<defs><pattern id="hb4" patternUnits="userSpaceOnUse" x="1386.43" y="594.59" width="10.86" height="11.4"><path d="M-1 -1.05L11.86 12.45M-11.86 -1.05L1 12.45M9.86 -1.05L22.72 12.45" stroke="#8c8c8c" stroke-width="1.2"/></pattern></defs>
<rect x="1386.43" y="594.59" width="21.27" height="19.81" fill="url(#hb4)" stroke="#707070" stroke-width="1.1"/>
<path d="M897.3 614.4h6.5M1471.5 614.4h-6.5M897.3 556.98h6.5M1471.5 556.98h-6.5M897.3 499.56h6.5M1471.5 499.56h-6.5M897.3 442.14h6.5M1471.5 442.14h-6.5M897.3 384.72h6.5M1471.5 384.72h-6.5M897.3 327.3h6.5M1471.5 327.3h-6.5M897.3 269.88h6.5M1471.5 269.88h-6.5M897.3 212.46h6.5M1471.5 212.46h-6.5M897.3 155.04h6.5M1471.5 155.04h-6.5M897.3 97.62h6.5M1471.5 97.62h-6.5M897.3 40.2h6.5M1471.5 40.2h-6.5M993 614.4v-6.5M993 40.2v6.5M1088.7 614.4v-6.5M1088.7 40.2v6.5M1184.4 614.4v-6.5M1184.4 40.2v6.5M1280.1 614.4v-6.5M1280.1 40.2v6.5M1375.8 614.4v-6.5M1375.8 40.2v6.5" stroke="#262626" stroke-width="1.4" fill="none"/>
<rect x="897.3" y="40.2" width="574.2" height="574.2" fill="none" stroke="#262626" stroke-width="1.5"/>
<text x="890.1" y="620.1" font-size="16.4" fill="#262626" text-anchor="end" font-family="Liberation Sans, sans-serif">0</text>
<text x="890.1" y="562.68" font-size="16.4" fill="#262626" text-anchor="end" font-family="Liberation Sans, sans-serif">10</text>
<text x="890.1" y="505.26" font-size="16.4" fill="#262626" text-anchor="end" font-family="Liberation Sans, sans-serif">20</text>
<text x="890.1" y="447.84" font-size="16.4" fill="#262626" text-anchor="end" font-family="Liberation Sans, sans-serif">30</text>
<text x="890.1" y="390.42" font-size="16.4" fill="#262626" text-anchor="end" font-family="Liberation Sans, sans-serif">40</text>
<text x="890.1" y="333" font-size="16.4" fill="#262626" text-anchor="end" font-family="Liberation Sans, sans-serif">50</text>
<text x="890.1" y="275.58" font-size="16.4" fill="#262626" text-anchor="end" font-family="Liberation Sans, sans-serif">60</text>
<text x="890.1" y="218.16" font-size="16.4" fill="#262626" text-anchor="end" font-family="Liberation Sans, sans-serif">70</text>
<text x="890.1" y="160.74" font-size="16.4" fill="#262626" text-anchor="end" font-family="Liberation Sans, sans-serif">80</text>
<text x="890.1" y="103.32" font-size="16.4" fill="#262626" text-anchor="end" font-family="Liberation Sans, sans-serif">90</text>
<text x="890.1" y="45.9" font-size="16.4" fill="#262626" text-anchor="end" font-family="Liberation Sans, sans-serif">100</text>
<text x="993" y="635.6" font-size="16.1" fill="#262626" text-anchor="middle" xml:space="preserve" font-family="Liberation Sans, sans-serif">0-50  <tspan font-style="italic">μ</tspan>m</text>
<text x="1088.7" y="635.6" font-size="16.1" fill="#262626" text-anchor="middle" xml:space="preserve" font-family="Liberation Sans, sans-serif">100-300  <tspan font-style="italic">μ</tspan>m</text>
<text x="1184.4" y="635.6" font-size="16.1" fill="#262626" text-anchor="middle" xml:space="preserve" font-family="Liberation Sans, sans-serif">300-600  <tspan font-style="italic">μ</tspan>m</text>
<text x="1280.1" y="635.6" font-size="16.1" fill="#262626" text-anchor="middle" xml:space="preserve" font-family="Liberation Sans, sans-serif">600-800  <tspan font-style="italic">μ</tspan>m</text>
<text x="1375.8" y="635.6" font-size="16.1" fill="#262626" text-anchor="middle" xml:space="preserve" font-family="Liberation Sans, sans-serif">800-1000  <tspan font-style="italic">μ</tspan>m</text>
<text transform="translate(855.3 327.3) rotate(-90)" font-size="17.5" fill="#262626" text-anchor="middle" font-family="Liberation Sans, sans-serif">Relative particle count [%]</text>
<rect x="1304.6" y="52.5" width="154.4" height="54.7" fill="#fff" stroke="#262626" stroke-width="1.5"/>
<rect x="1309.2" y="57.45" width="48.4" height="11.5" fill="#b3b3b3" stroke="#2a2a2a" stroke-width="1.1"/>
<rect x="1309.2" y="74.55" width="48.4" height="11.5" fill="#fff" stroke="#707070" stroke-width="1.1"/>
<rect x="1309.2" y="91.25" width="48.4" height="11.5" fill="url(#hbL)" stroke="#707070" stroke-width="1.1"/>
<text x="1360.9" y="68.3" font-size="14.7" fill="#262626" font-family="Liberation Sans, sans-serif">LISST HOLO2</text>
<text x="1360.9" y="85.4" font-size="14.7" fill="#262626" font-family="Liberation Sans, sans-serif">CPICS</text>
<text x="1360.9" y="102.1" font-size="14.7" fill="#262626" font-family="Liberation Sans, sans-serif">UVP5</text>
<text x="937.5" y="102.5" font-size="48.6" fill="#555" font-family="Liberation Sans, sans-serif">b</text>
<path d="M897.3 1324.33H1471.5M897.3 1266.96H1471.5M897.3 1209.59H1471.5M897.3 1152.22H1471.5M897.3 1094.85H1471.5M897.3 1037.48H1471.5M897.3 980.11H1471.5M897.3 922.74H1471.5M897.3 865.37H1471.5M993 808V1381.7M1088.7 808V1381.7M1184.4 808V1381.7M1280.1 808V1381.7M1375.8 808V1381.7" stroke="#dadada" stroke-width="1.5" fill="none"/>
<defs><pattern id="hd" patternUnits="userSpaceOnUse" width="11" height="11" patternTransform="rotate(0)"><path d="M-1 -1L12 12M-12 -1L1 12M10 -1L23 12" stroke="#8a8a8a" stroke-width="1.1"/></pattern><pattern id="hdL" patternUnits="userSpaceOnUse" width="9" height="9"><path d="M-1 10L10 -1M-10 10L1 -1M8 10L19 -1" stroke="#999" stroke-width="1.0"/></pattern></defs>
<rect x="1056.8" y="1123.54" width="21.27" height="258.17" fill="#b3b3b3" stroke="#2a2a2a" stroke-width="1.1"/>
<rect x="1078.07" y="1135.87" width="21.27" height="245.83" fill="#fff" stroke="#2a2a2a" stroke-width="1.1"/>
<rect x="1152.5" y="1088.54" width="21.27" height="293.16" fill="#b3b3b3" stroke="#2a2a2a" stroke-width="1.1"/>
<rect x="1173.77" y="1106.61" width="21.27" height="275.09" fill="#fff" stroke="#2a2a2a" stroke-width="1.1"/>
<rect x="1248.2" y="1364.2" width="21.27" height="17.5" fill="#b3b3b3" stroke="#2a2a2a" stroke-width="1.1"/>
<rect x="1269.47" y="1344.7" width="21.27" height="37" fill="#fff" stroke="#2a2a2a" stroke-width="1.1"/>
<defs><pattern id="hd3" patternUnits="userSpaceOnUse" x="1290.73" y="1196.39" width="10.86" height="11.4"><path d="M-1 -1.05L11.86 12.45M-11.86 -1.05L1 12.45M9.86 -1.05L22.72 12.45" stroke="#8c8c8c" stroke-width="1.2"/></pattern></defs>
<rect x="1290.73" y="1196.39" width="21.27" height="185.31" fill="url(#hd3)" stroke="#707070" stroke-width="1.1"/>
<rect x="1343.9" y="1377.68" width="21.27" height="4.02" fill="#b3b3b3" stroke="#2a2a2a" stroke-width="1.1"/>
<rect x="1365.17" y="1366.5" width="21.27" height="15.2" fill="#fff" stroke="#2a2a2a" stroke-width="1.1"/>
<defs><pattern id="hd4" patternUnits="userSpaceOnUse" x="1386.43" y="993.02" width="10.86" height="11.4"><path d="M-1 -1.05L11.86 12.45M-11.86 -1.05L1 12.45M9.86 -1.05L22.72 12.45" stroke="#8c8c8c" stroke-width="1.2"/></pattern></defs>
<rect x="1386.43" y="993.02" width="21.27" height="388.68" fill="url(#hd4)" stroke="#707070" stroke-width="1.1"/>
<path d="M897.3 1381.7h6.5M1471.5 1381.7h-6.5M897.3 1324.33h6.5M1471.5 1324.33h-6.5M897.3 1266.96h6.5M1471.5 1266.96h-6.5M897.3 1209.59h6.5M1471.5 1209.59h-6.5M897.3 1152.22h6.5M1471.5 1152.22h-6.5M897.3 1094.85h6.5M1471.5 1094.85h-6.5M897.3 1037.48h6.5M1471.5 1037.48h-6.5M897.3 980.11h6.5M1471.5 980.11h-6.5M897.3 922.74h6.5M1471.5 922.74h-6.5M897.3 865.37h6.5M1471.5 865.37h-6.5M897.3 808h6.5M1471.5 808h-6.5M993 1381.7v-6.5M993 808v6.5M1088.7 1381.7v-6.5M1088.7 808v6.5M1184.4 1381.7v-6.5M1184.4 808v6.5M1280.1 1381.7v-6.5M1280.1 808v6.5M1375.8 1381.7v-6.5M1375.8 808v6.5" stroke="#262626" stroke-width="1.4" fill="none"/>
<rect x="897.3" y="808" width="574.2" height="573.7" fill="none" stroke="#262626" stroke-width="1.5"/>
<text x="890.1" y="1387.4" font-size="16.4" fill="#262626" text-anchor="end" font-family="Liberation Sans, sans-serif">0</text>
<text x="890.1" y="1330.03" font-size="16.4" fill="#262626" text-anchor="end" font-family="Liberation Sans, sans-serif">10</text>
<text x="890.1" y="1272.66" font-size="16.4" fill="#262626" text-anchor="end" font-family="Liberation Sans, sans-serif">20</text>
<text x="890.1" y="1215.29" font-size="16.4" fill="#262626" text-anchor="end" font-family="Liberation Sans, sans-serif">30</text>
<text x="890.1" y="1157.92" font-size="16.4" fill="#262626" text-anchor="end" font-family="Liberation Sans, sans-serif">40</text>
<text x="890.1" y="1100.55" font-size="16.4" fill="#262626" text-anchor="end" font-family="Liberation Sans, sans-serif">50</text>
<text x="890.1" y="1043.18" font-size="16.4" fill="#262626" text-anchor="end" font-family="Liberation Sans, sans-serif">60</text>
<text x="890.1" y="985.81" font-size="16.4" fill="#262626" text-anchor="end" font-family="Liberation Sans, sans-serif">70</text>
<text x="890.1" y="928.44" font-size="16.4" fill="#262626" text-anchor="end" font-family="Liberation Sans, sans-serif">80</text>
<text x="890.1" y="871.07" font-size="16.4" fill="#262626" text-anchor="end" font-family="Liberation Sans, sans-serif">90</text>
<text x="890.1" y="813.7" font-size="16.4" fill="#262626" text-anchor="end" font-family="Liberation Sans, sans-serif">100</text>
<text x="993" y="1402.9" font-size="16.1" fill="#262626" text-anchor="middle" xml:space="preserve" font-family="Liberation Sans, sans-serif">0-50  <tspan font-style="italic">μ</tspan>m</text>
<text x="1088.7" y="1402.9" font-size="16.1" fill="#262626" text-anchor="middle" xml:space="preserve" font-family="Liberation Sans, sans-serif">100-300  <tspan font-style="italic">μ</tspan>m</text>
<text x="1184.4" y="1402.9" font-size="16.1" fill="#262626" text-anchor="middle" xml:space="preserve" font-family="Liberation Sans, sans-serif">300-600  <tspan font-style="italic">μ</tspan>m</text>
<text x="1280.1" y="1402.9" font-size="16.1" fill="#262626" text-anchor="middle" xml:space="preserve" font-family="Liberation Sans, sans-serif">600-800  <tspan font-style="italic">μ</tspan>m</text>
<text x="1375.8" y="1402.9" font-size="16.1" fill="#262626" text-anchor="middle" xml:space="preserve" font-family="Liberation Sans, sans-serif">800-1000  <tspan font-style="italic">μ</tspan>m</text>
<text transform="translate(855.3 1094.85) rotate(-90)" font-size="17.5" fill="#262626" text-anchor="middle" font-family="Liberation Sans, sans-serif">Relative particle count [%]</text>
<rect x="1304.3" y="820.6" width="154.1" height="53.9" fill="#fff" stroke="#262626" stroke-width="1.5"/>
<rect x="1308.9" y="825.55" width="48.4" height="11.5" fill="#b3b3b3" stroke="#2a2a2a" stroke-width="1.1"/>
<rect x="1308.9" y="842.65" width="48.4" height="11.5" fill="#fff" stroke="#707070" stroke-width="1.1"/>
<rect x="1308.9" y="859.35" width="48.4" height="11.5" fill="url(#hdL)" stroke="#707070" stroke-width="1.1"/>
<text x="1360.6" y="836.4" font-size="14.7" fill="#262626" font-family="Liberation Sans, sans-serif">LISST HOLO2</text>
<text x="1360.6" y="853.5" font-size="14.7" fill="#262626" font-family="Liberation Sans, sans-serif">CPICS</text>
<text x="1360.6" y="870.2" font-size="14.7" fill="#262626" font-family="Liberation Sans, sans-serif">UVP5</text>
<text x="937.7" y="856.3" font-size="48.6" fill="#555" font-family="Liberation Sans, sans-serif">d</text>
<path d="M909.9 2106.98H1484.9M909.9 2049.56H1484.9M909.9 1992.14H1484.9M909.9 1934.72H1484.9M909.9 1877.3H1484.9M909.9 1819.88H1484.9M909.9 1762.46H1484.9M909.9 1705.04H1484.9M909.9 1647.62H1484.9M1005.73 1590.2V2164.4M1101.57 1590.2V2164.4M1197.4 1590.2V2164.4M1293.23 1590.2V2164.4M1389.07 1590.2V2164.4" stroke="#dadada" stroke-width="1.5" fill="none"/>
<defs><pattern id="hf" patternUnits="userSpaceOnUse" width="11" height="11" patternTransform="rotate(0)"><path d="M-1 -1L12 12M-12 -1L1 12M10 -1L23 12" stroke="#8a8a8a" stroke-width="1.1"/></pattern><pattern id="hfL" patternUnits="userSpaceOnUse" width="9" height="9"><path d="M-1 10L10 -1M-10 10L1 -1M8 10L19 -1" stroke="#999" stroke-width="1.0"/></pattern></defs>
<rect x="973.79" y="2012.24" width="21.3" height="152.16" fill="#b3b3b3" stroke="#2a2a2a" stroke-width="1.1"/>
<rect x="1069.62" y="1835.1" width="21.3" height="329.3" fill="#b3b3b3" stroke="#2a2a2a" stroke-width="1.1"/>
<rect x="1090.92" y="1918.36" width="21.3" height="246.04" fill="#fff" stroke="#2a2a2a" stroke-width="1.1"/>
<rect x="1165.46" y="2078.84" width="21.3" height="85.56" fill="#b3b3b3" stroke="#2a2a2a" stroke-width="1.1"/>
<rect x="1186.75" y="1889.07" width="21.3" height="275.33" fill="#fff" stroke="#2a2a2a" stroke-width="1.1"/>
<rect x="1261.29" y="2158.66" width="21.3" height="5.74" fill="#b3b3b3" stroke="#2a2a2a" stroke-width="1.1"/>
<rect x="1282.59" y="2127.65" width="21.3" height="36.75" fill="#fff" stroke="#2a2a2a" stroke-width="1.1"/>
<defs><pattern id="hf3" patternUnits="userSpaceOnUse" x="1303.88" y="1978.93" width="10.86" height="11.4"><path d="M-1 -1.05L11.86 12.45M-11.86 -1.05L1 12.45M9.86 -1.05L22.72 12.45" stroke="#8c8c8c" stroke-width="1.2"/></pattern></defs>
<rect x="1303.88" y="1978.93" width="21.3" height="185.47" fill="url(#hf3)" stroke="#707070" stroke-width="1.1"/>
<rect x="1357.12" y="2163.54" width="21.3" height="0.86" fill="#b3b3b3" stroke="#2a2a2a" stroke-width="1.1"/>
<rect x="1378.42" y="2148.9" width="21.3" height="15.5" fill="#fff" stroke="#2a2a2a" stroke-width="1.1"/>
<defs><pattern id="hf4" patternUnits="userSpaceOnUse" x="1399.71" y="1775.67" width="10.86" height="11.4"><path d="M-1 -1.05L11.86 12.45M-11.86 -1.05L1 12.45M9.86 -1.05L22.72 12.45" stroke="#8c8c8c" stroke-width="1.2"/></pattern></defs>
<rect x="1399.71" y="1775.67" width="21.3" height="388.73" fill="url(#hf4)" stroke="#707070" stroke-width="1.1"/>
<path d="M909.9 2164.4h6.5M1484.9 2164.4h-6.5M909.9 2106.98h6.5M1484.9 2106.98h-6.5M909.9 2049.56h6.5M1484.9 2049.56h-6.5M909.9 1992.14h6.5M1484.9 1992.14h-6.5M909.9 1934.72h6.5M1484.9 1934.72h-6.5M909.9 1877.3h6.5M1484.9 1877.3h-6.5M909.9 1819.88h6.5M1484.9 1819.88h-6.5M909.9 1762.46h6.5M1484.9 1762.46h-6.5M909.9 1705.04h6.5M1484.9 1705.04h-6.5M909.9 1647.62h6.5M1484.9 1647.62h-6.5M909.9 1590.2h6.5M1484.9 1590.2h-6.5M1005.73 2164.4v-6.5M1005.73 1590.2v6.5M1101.57 2164.4v-6.5M1101.57 1590.2v6.5M1197.4 2164.4v-6.5M1197.4 1590.2v6.5M1293.23 2164.4v-6.5M1293.23 1590.2v6.5M1389.07 2164.4v-6.5M1389.07 1590.2v6.5" stroke="#262626" stroke-width="1.4" fill="none"/>
<rect x="909.9" y="1590.2" width="575" height="574.2" fill="none" stroke="#262626" stroke-width="1.5"/>
<text x="902.7" y="2170.1" font-size="16.4" fill="#262626" text-anchor="end" font-family="Liberation Sans, sans-serif">0</text>
<text x="902.7" y="2112.68" font-size="16.4" fill="#262626" text-anchor="end" font-family="Liberation Sans, sans-serif">10</text>
<text x="902.7" y="2055.26" font-size="16.4" fill="#262626" text-anchor="end" font-family="Liberation Sans, sans-serif">20</text>
<text x="902.7" y="1997.84" font-size="16.4" fill="#262626" text-anchor="end" font-family="Liberation Sans, sans-serif">30</text>
<text x="902.7" y="1940.42" font-size="16.4" fill="#262626" text-anchor="end" font-family="Liberation Sans, sans-serif">40</text>
<text x="902.7" y="1883" font-size="16.4" fill="#262626" text-anchor="end" font-family="Liberation Sans, sans-serif">50</text>
<text x="902.7" y="1825.58" font-size="16.4" fill="#262626" text-anchor="end" font-family="Liberation Sans, sans-serif">60</text>
<text x="902.7" y="1768.16" font-size="16.4" fill="#262626" text-anchor="end" font-family="Liberation Sans, sans-serif">70</text>
<text x="902.7" y="1710.74" font-size="16.4" fill="#262626" text-anchor="end" font-family="Liberation Sans, sans-serif">80</text>
<text x="902.7" y="1653.32" font-size="16.4" fill="#262626" text-anchor="end" font-family="Liberation Sans, sans-serif">90</text>
<text x="902.7" y="1595.9" font-size="16.4" fill="#262626" text-anchor="end" font-family="Liberation Sans, sans-serif">100</text>
<text x="1005.73" y="2185.6" font-size="16.1" fill="#262626" text-anchor="middle" xml:space="preserve" font-family="Liberation Sans, sans-serif">0-50  <tspan font-style="italic">μ</tspan>m</text>
<text x="1101.57" y="2185.6" font-size="16.1" fill="#262626" text-anchor="middle" xml:space="preserve" font-family="Liberation Sans, sans-serif">100-300  <tspan font-style="italic">μ</tspan>m</text>
<text x="1197.4" y="2185.6" font-size="16.1" fill="#262626" text-anchor="middle" xml:space="preserve" font-family="Liberation Sans, sans-serif">300-600  <tspan font-style="italic">μ</tspan>m</text>
<text x="1293.23" y="2185.6" font-size="16.1" fill="#262626" text-anchor="middle" xml:space="preserve" font-family="Liberation Sans, sans-serif">600-800  <tspan font-style="italic">μ</tspan>m</text>
<text x="1389.07" y="2185.6" font-size="16.1" fill="#262626" text-anchor="middle" xml:space="preserve" font-family="Liberation Sans, sans-serif">800-1000  <tspan font-style="italic">μ</tspan>m</text>
<text transform="translate(867.9 1877.3) rotate(-90)" font-size="17.5" fill="#262626" text-anchor="middle" font-family="Liberation Sans, sans-serif">Relative particle count [%]</text>
<rect x="1317.8" y="1602.8" width="154.6" height="54.8" fill="#fff" stroke="#262626" stroke-width="1.5"/>
<rect x="1322.4" y="1607.75" width="48.4" height="11.5" fill="#b3b3b3" stroke="#2a2a2a" stroke-width="1.1"/>
<rect x="1322.4" y="1624.85" width="48.4" height="11.5" fill="#fff" stroke="#707070" stroke-width="1.1"/>
<rect x="1322.4" y="1641.55" width="48.4" height="11.5" fill="url(#hfL)" stroke="#707070" stroke-width="1.1"/>
<text x="1374.1" y="1618.6" font-size="14.7" fill="#262626" font-family="Liberation Sans, sans-serif">LISST HOLO2</text>
<text x="1374.1" y="1635.7" font-size="14.7" fill="#262626" font-family="Liberation Sans, sans-serif">CPICS</text>
<text x="1374.1" y="1652.4" font-size="14.7" fill="#262626" font-family="Liberation Sans, sans-serif">UVP5</text>
<text x="938.5" y="1653.3" font-size="48.6" fill="#555" font-family="Liberation Sans, sans-serif">f</text>
</svg></body></html>
